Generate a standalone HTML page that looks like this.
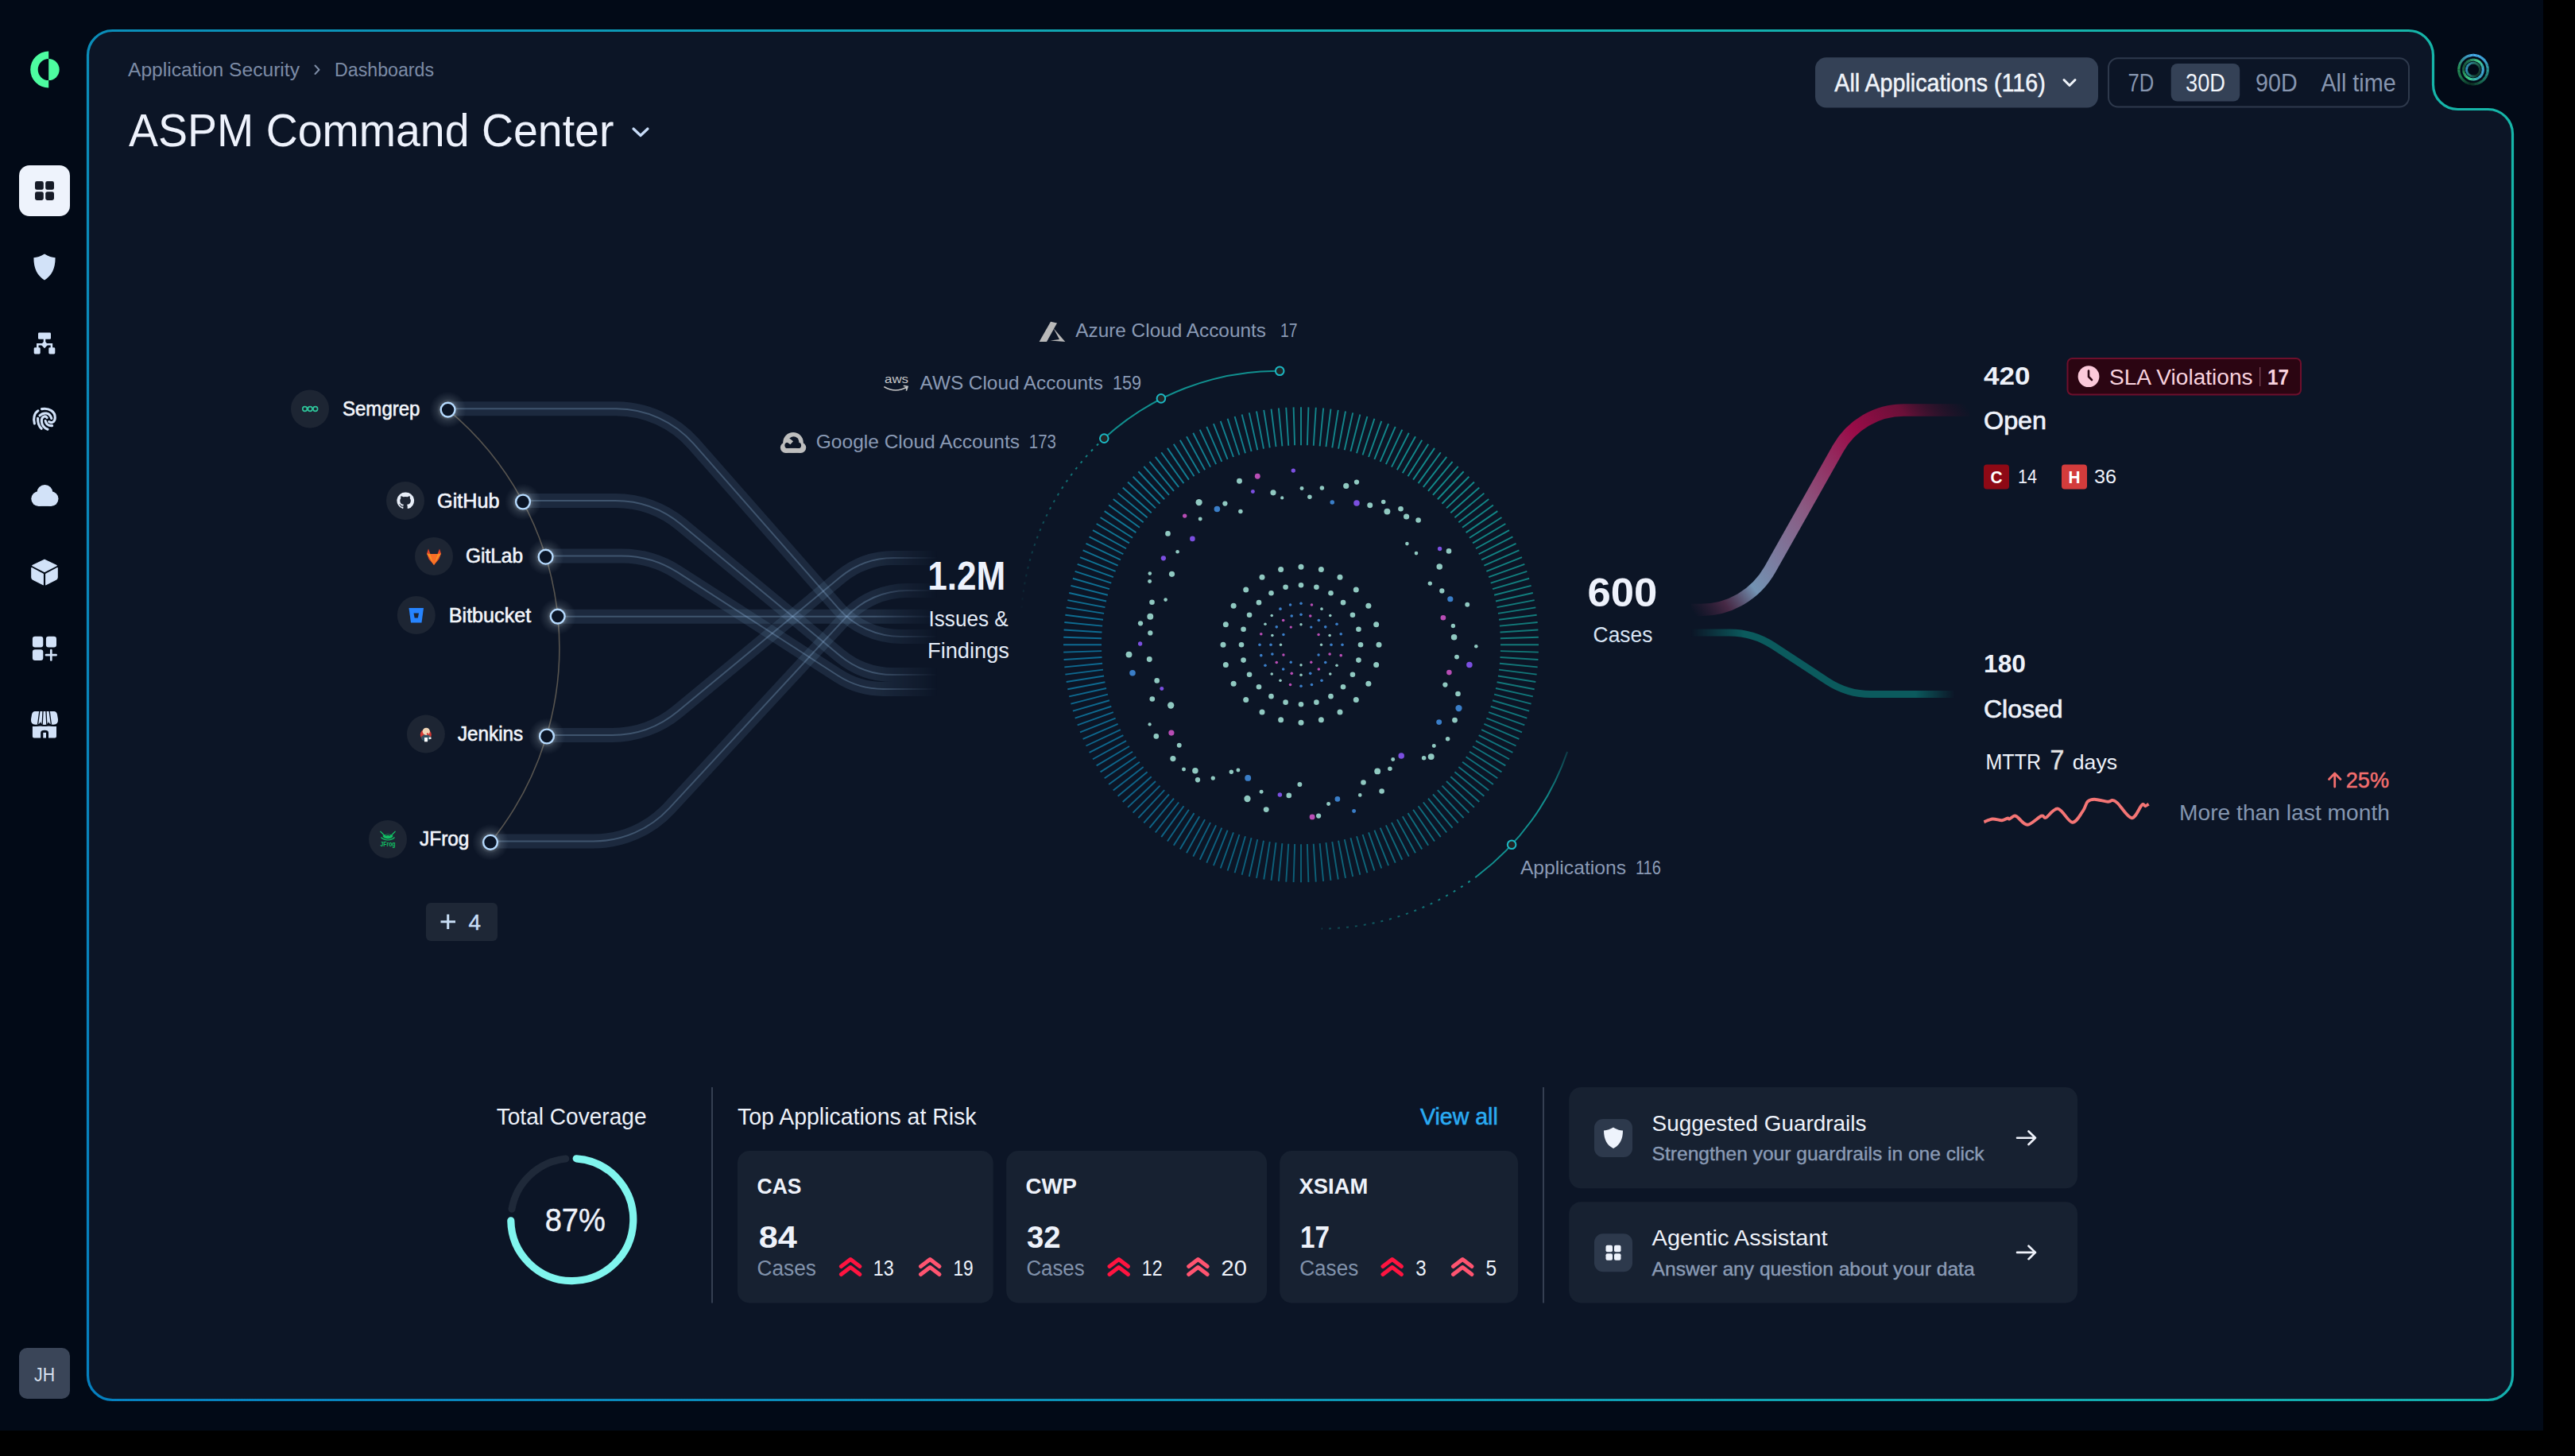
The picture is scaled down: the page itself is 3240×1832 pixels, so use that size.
<!DOCTYPE html>
<html><head><meta charset="utf-8"><title>ASPM Command Center</title>
<style>
html,body{margin:0;padding:0;background:#000;width:3240px;height:1832px;overflow:hidden}
svg{position:absolute;left:0;top:0;display:block}
text{font-family:"Liberation Sans",sans-serif;white-space:pre}
</style></head><body>
<svg width="3240" height="1832" viewBox="0 0 3240 1832">
<defs><linearGradient id="gBorder" gradientUnits="userSpaceOnUse" x1="110" y1="1762" x2="3161" y2="38"><stop offset="0" stop-color="#0580c0"/><stop offset="0.12" stop-color="#0986bc"/><stop offset="0.38" stop-color="#0c96b6"/><stop offset="0.6" stop-color="#12aab0"/><stop offset="1" stop-color="#16b6a8"/></linearGradient><linearGradient id="gFade" gradientUnits="userSpaceOnUse" x1="1100" y1="0" x2="1180" y2="0"><stop offset="0" stop-color="#fff"/><stop offset="1" stop-color="#000"/></linearGradient><mask id="mFade" maskUnits="userSpaceOnUse" x="0" y="0" width="3240" height="1832"><rect x="0" y="0" width="1100" height="1832" fill="#fff"/><rect x="1100" y="0" width="80" height="1832" fill="url(#gFade)"/></mask><radialGradient id="gGlow"><stop offset="0.3" stop-color="#e8f0f0" stop-opacity="0.42"/><stop offset="0.6" stop-color="#c0d0d8" stop-opacity="0.14"/><stop offset="1" stop-color="#a0b0c0" stop-opacity="0"/></radialGradient><linearGradient id="gDashL" gradientUnits="userSpaceOnUse" x1="1389.3" y1="551.6" x2="1285.0" y2="772.7"><stop offset="0" stop-color="#11908f" stop-opacity="1"/><stop offset="1" stop-color="#11908f" stop-opacity="0"/></linearGradient><linearGradient id="gAppTop" gradientUnits="userSpaceOnUse" x1="1972.1" y1="945.9" x2="1902.1" y2="1062.8"><stop offset="0" stop-color="#11908f" stop-opacity="0.3"/><stop offset="0.5" stop-color="#11908f" stop-opacity="1"/></linearGradient><linearGradient id="gDashR" gradientUnits="userSpaceOnUse" x1="1858.6" y1="1102.2" x2="1662.7" y2="1168.6"><stop offset="0" stop-color="#11908f" stop-opacity="1"/><stop offset="1" stop-color="#11908f" stop-opacity="0.35"/></linearGradient><linearGradient id="gOpenC" gradientUnits="userSpaceOnUse" x1="2128" y1="767" x2="2478" y2="516"><stop offset="0" stop-color="#4a2040" stop-opacity="0"/><stop offset="0.09" stop-color="#5a3050" stop-opacity="0.75"/><stop offset="0.185" stop-color="#7292b2"/><stop offset="0.44" stop-color="#8a5a82"/><stop offset="0.69" stop-color="#9a0c48"/><stop offset="0.84" stop-color="#6a1038"/><stop offset="0.97" stop-color="#301028" stop-opacity="0.3"/><stop offset="1" stop-color="#301028" stop-opacity="0"/></linearGradient><linearGradient id="gClosedX" gradientUnits="userSpaceOnUse" x1="2128" y1="0" x2="2460" y2="0"><stop offset="0" stop-color="#000"/><stop offset="0.2" stop-color="#fff"/><stop offset="0.85" stop-color="#fff"/><stop offset="1" stop-color="#000"/></linearGradient><mask id="mClosed" maskUnits="userSpaceOnUse" x="2000" y="700" width="600" height="300"><rect x="2000" y="700" width="600" height="300" fill="url(#gClosedX)"/></mask></defs>
<rect x="0" y="0" width="3240" height="1832" fill="#000"/>
<rect x="0" y="0" width="3200" height="1800" fill="#020a17"/>
<path d="M 141.5 38.5 H 3030.5 A 31 31 0 0 1 3061.5 69.5 V 106.5 A 31 31 0 0 0 3092.5 137.5 H 3130.5 A 31 31 0 0 1 3161.5 168.5 V 1730.5 A 31 31 0 0 1 3130.5 1761.5 H 141.5 A 31 31 0 0 1 110.5 1730.5 V 69.5 A 31 31 0 0 1 141.5 38.5 Z" fill="#0c1526" stroke="url(#gBorder)" stroke-width="3.2"/>
<g fill="#4dfca0"><path d="M 61.2 64.6 A 23 23 0 0 0 61.2 110.6 L 61.2 101.1 A 13.5 13.5 0 0 1 61.2 74.1 Z"/><path d="M 61.2 74.1 A 13.5 13.5 0 0 1 61.2 101.1 Z"/></g>
<rect x="24" y="208" width="64" height="64" rx="13" fill="#eef3fc"/>
<g fill="#161b27"><rect x="44" y="228" width="10.8" height="10.8" rx="2.4"/><rect x="57.2" y="228" width="10.8" height="10.8" rx="2.4"/><rect x="44" y="241.2" width="10.8" height="10.8" rx="2.4"/><rect x="57.2" y="241.2" width="10.8" height="10.8" rx="2.4"/></g>
<path fill="#d2e2f8" d="M56 319.5 C61 322.5 65.5 324 69.6 324.3 C69.6 338 65 347 56 352.4 C47 347 42.4 338 42.4 324.3 C46.5 324 51 322.5 56 319.5 Z"/>
<g fill="#d2e2f8"><rect x="48" y="418.4" width="16" height="8.4" rx="1.4"/><rect x="42.7" y="437.3" width="8" height="8.2" rx="1.4"/><rect x="61.3" y="437.3" width="8" height="8.2" rx="1.4"/><path d="M56 429 L60.5 433.6 L56 438.2 L51.5 433.6 Z"/></g><path d="M56 426 V431 M47.3 438 V433.2 H64.9 V438" stroke="#d2e2f8" stroke-width="2.5" fill="none"/>
<g stroke="#d2e2f8" stroke-width="3.1" fill="none" stroke-linecap="round"><path d="M47.9 516.8 C43 520 41.5 527 43.4 533"/><path d="M52.5 514.6 C62 513 69.5 518 69.3 525.5 C69.2 531 65 533 61.6 530.6"/><path d="M50 522.9 C54.5 518.5 62.5 518.5 64.8 526.5"/><path d="M47.6 526.2 C47.3 532 49 536.5 52.2 539.3"/><path d="M59.2 525.6 C57 522.5 52 524 52.3 530 C52.6 535 55.5 538.5 60 540.2"/><path d="M57.1 529.5 C58 534 61.5 535.8 65.6 535.6"/></g>
<g fill="#d2e2f8"><circle cx="48.6" cy="627.6" r="9.3"/><circle cx="56.4" cy="620.2" r="10.1"/><circle cx="64.2" cy="627.6" r="9.3"/><rect x="48.6" y="622" width="15.6" height="14.9"/></g>
<g fill="#d2e2f8" stroke="#d2e2f8" stroke-width="1.2" stroke-linejoin="round"><path d="M56 704.2 L71.2 711.6 L56 719.4 L40.8 711.6 Z"/><path d="M39.8 714.6 L54.3 722.2 V735.8 L41.5 729.3 Q39.8 728.4 39.8 726.5 Z"/><path d="M72.2 714.6 L57.7 722.2 V735.8 L70.5 729.3 Q72.2 728.4 72.2 726.5 Z"/></g>
<g fill="#d2e2f8"><rect x="40.9" y="800.8" width="13.4" height="13.7" rx="3.2"/><rect x="57.9" y="800.8" width="13.1" height="13.7" rx="3.2"/><rect x="40.9" y="817.3" width="13.4" height="13.7" rx="3.2"/></g><path d="M64.3 818 V830.5 M58 824.2 H70.6" stroke="#d2e2f8" stroke-width="2.7" stroke-linecap="round"/>
<g fill="#d2e2f8"><path d="M44 895 H68 Q71 895 72 899 L73 905 Q73.5 911.5 67.5 911.8 Q62 912 61 908 Q60 912 56 912 Q52 912 51 908 Q50 912 44.5 911.8 Q38.5 911.5 39 905 L40 899 Q41 895 44 895 Z"/><path d="M40.9 913.6 H71 V926.5 Q71 928.5 69 928.5 H61 V922 Q61 918.7 56.1 918.7 Q51.2 918.7 51.2 922 V928.5 H42.9 Q40.9 928.5 40.9 926.5 Z"/><rect x="54.3" y="921.8" width="3.7" height="6.7"/></g><path d="M49.8 895 L47.6 911.5 M54 895 L53.2 911.5 M58 895 L58.8 911.5 M62.2 895 L64.4 911.5" stroke="#020a17" stroke-width="1.3"/><path d="M39 912.7 Q44 914 51 912.3 Q56 914 61 912.3 Q68 914 73 912.7" stroke="#020a17" stroke-width="1.4" fill="none"/>
<rect x="24" y="1696" width="64" height="64" rx="10" fill="#3a4558"/>
<text x="43.00" y="1737.50" font-size="24.71" font-weight="normal" fill="#d8e0ee" textLength="26.05" lengthAdjust="spacingAndGlyphs" >JH</text>
<text x="161.00" y="96.10" font-size="24.42" font-weight="normal" fill="#7d8ca6" textLength="215.94" lengthAdjust="spacingAndGlyphs" >Application Security</text>
<path d="M396.5 82.5 L401.5 87.7 L396.5 93" stroke="#7d8ca6" stroke-width="2" fill="none" stroke-linecap="round" stroke-linejoin="round"/>
<text x="421.00" y="96.10" font-size="24.42" font-weight="normal" fill="#7d8ca6" textLength="125.05" lengthAdjust="spacingAndGlyphs" >Dashboards</text>
<text x="162.00" y="184.20" font-size="57.27" font-weight="normal" fill="#eef2fc" textLength="610.46" lengthAdjust="spacingAndGlyphs" >ASPM Command Center</text>
<path d="M797 162 L806 170.5 L815 162" stroke="#c8dcf8" stroke-width="3.2" fill="none" stroke-linecap="round" stroke-linejoin="round"/>
<rect x="2284" y="72.3" width="356" height="63.2" rx="14" fill="#344156"/>
<text x="2308.30" y="114.60" font-size="30.52" font-weight="normal" fill="#f0f4fa" textLength="265.39" lengthAdjust="spacingAndGlyphs" stroke="#f0f4fa" stroke-width="0.5" paint-order="stroke" >All Applications (116)</text>
<path d="M2597 100.5 L2604 107.5 L2611 100.5" stroke="#f0f4fa" stroke-width="3" fill="none" stroke-linecap="round" stroke-linejoin="round"/>
<rect x="2653" y="73.3" width="378" height="61.2" rx="12" fill="none" stroke="#2e394c" stroke-width="2"/>
<rect x="2731.7" y="80" width="86.5" height="47.5" rx="8" fill="#344156"/>
<text x="2677.40" y="114.60" font-size="30.52" font-weight="normal" fill="#8796b0" textLength="32.76" lengthAdjust="spacingAndGlyphs" >7D</text>
<text x="2750.00" y="114.60" font-size="30.52" font-weight="normal" fill="#f0f4fa" textLength="49.99" lengthAdjust="spacingAndGlyphs" >30D</text>
<text x="2838.00" y="114.60" font-size="30.52" font-weight="normal" fill="#8796b0" textLength="52.59" lengthAdjust="spacingAndGlyphs" >90D</text>
<text x="2920.40" y="114.60" font-size="30.52" font-weight="normal" fill="#8796b0" textLength="94.36" lengthAdjust="spacingAndGlyphs" >All time</text>
<g fill="none" stroke-width="3.2"><path d="M3130.20 87.60 A18.2 18.2 0 0 1 3130.14 89.06" stroke="#2b9a96"/><path d="M3130.16 88.87 A18.2 18.2 0 0 1 3130.00 90.32" stroke="#2a9791"/><path d="M3130.02 90.13 A18.2 18.2 0 0 1 3129.76 91.57" stroke="#29948c"/><path d="M3129.80 91.38 A18.2 18.2 0 0 1 3129.44 92.80" stroke="#289087"/><path d="M3129.49 92.62 A18.2 18.2 0 0 1 3129.04 94.00" stroke="#278d82"/><path d="M3129.10 93.82 A18.2 18.2 0 0 1 3128.55 95.18" stroke="#258a7e"/><path d="M3128.63 95.00 A18.2 18.2 0 0 1 3127.98 96.31" stroke="#248679"/><path d="M3128.07 96.14 A18.2 18.2 0 0 1 3127.33 97.41" stroke="#238374"/><path d="M3127.43 97.24 A18.2 18.2 0 0 1 3126.61 98.45" stroke="#22806f"/><path d="M3126.72 98.30 A18.2 18.2 0 0 1 3125.82 99.44" stroke="#217c6a"/><path d="M3125.94 99.30 A18.2 18.2 0 0 1 3124.96 100.38" stroke="#1f7966"/><path d="M3125.09 100.24 A18.2 18.2 0 0 1 3124.04 101.25" stroke="#1e7661"/><path d="M3124.18 101.13 A18.2 18.2 0 0 1 3123.05 102.06" stroke="#1d725c"/><path d="M3123.21 101.94 A18.2 18.2 0 0 1 3122.02 102.79" stroke="#1c6f57"/><path d="M3122.18 102.69 A18.2 18.2 0 0 1 3120.93 103.46" stroke="#1b6c52"/><path d="M3121.10 103.36 A18.2 18.2 0 0 1 3119.81 104.04" stroke="#19674e"/><path d="M3119.98 103.96 A18.2 18.2 0 0 1 3118.64 104.55" stroke="#186149"/><path d="M3118.82 104.47 A18.2 18.2 0 0 1 3117.44 104.97" stroke="#165b44"/><path d="M3117.62 104.91 A18.2 18.2 0 0 1 3116.22 105.30" stroke="#155540"/><path d="M3116.40 105.26 A18.2 18.2 0 0 1 3114.97 105.56" stroke="#144f3b"/><path d="M3115.16 105.52 A18.2 18.2 0 0 1 3113.71 105.72" stroke="#124937"/><path d="M3113.90 105.70 A18.2 18.2 0 0 1 3112.44 105.79" stroke="#114332"/><path d="M3112.64 105.79 A18.2 18.2 0 0 1 3111.17 105.78" stroke="#103d2e"/><path d="M3111.36 105.79 A18.2 18.2 0 0 1 3109.91 105.68" stroke="#0e3729"/><path d="M3110.10 105.70 A18.2 18.2 0 0 1 3108.65 105.49" stroke="#0d3124"/><path d="M3108.84 105.52 A18.2 18.2 0 0 1 3107.41 105.21" stroke="#0d3124"/><path d="M3107.60 105.26 A18.2 18.2 0 0 1 3106.19 104.85" stroke="#0e3728"/><path d="M3106.38 104.91 A18.2 18.2 0 0 1 3105.01 104.40" stroke="#103d2b"/><path d="M3105.18 104.47 A18.2 18.2 0 0 1 3103.85 103.87" stroke="#11432f"/><path d="M3104.02 103.96 A18.2 18.2 0 0 1 3102.74 103.27" stroke="#124933"/><path d="M3102.90 103.36 A18.2 18.2 0 0 1 3101.67 102.58" stroke="#144f36"/><path d="M3101.82 102.69 A18.2 18.2 0 0 1 3100.65 101.82" stroke="#15563a"/><path d="M3100.79 101.94 A18.2 18.2 0 0 1 3099.68 101.00" stroke="#175c3e"/><path d="M3099.82 101.13 A18.2 18.2 0 0 1 3098.78 100.10" stroke="#186241"/><path d="M3098.91 100.24 A18.2 18.2 0 0 1 3097.94 99.15" stroke="#1a6845"/><path d="M3098.06 99.30 A18.2 18.2 0 0 1 3097.16 98.14" stroke="#1b6e49"/><path d="M3097.28 98.30 A18.2 18.2 0 0 1 3096.47 97.08" stroke="#1d744c"/><path d="M3096.57 97.24 A18.2 18.2 0 0 1 3095.84 95.98" stroke="#1e7a50"/><path d="M3095.93 96.14 A18.2 18.2 0 0 1 3095.30 94.83" stroke="#1f7d51"/><path d="M3095.37 95.00 A18.2 18.2 0 0 1 3094.83 93.65" stroke="#208052"/><path d="M3094.90 93.82 A18.2 18.2 0 0 1 3094.45 92.43" stroke="#228454"/><path d="M3094.51 92.62 A18.2 18.2 0 0 1 3094.16 91.20" stroke="#238755"/><path d="M3094.20 91.38 A18.2 18.2 0 0 1 3093.95 89.94" stroke="#248a56"/><path d="M3093.98 90.13 A18.2 18.2 0 0 1 3093.83 88.68" stroke="#258d57"/><path d="M3093.84 88.87 A18.2 18.2 0 0 1 3093.80 87.41" stroke="#269058"/><path d="M3093.80 87.60 A18.2 18.2 0 0 1 3093.86 86.14" stroke="#28945a"/><path d="M3093.84 86.33 A18.2 18.2 0 0 1 3094.00 84.88" stroke="#29975b"/><path d="M3093.98 85.07 A18.2 18.2 0 0 1 3094.24 83.63" stroke="#2a9a5c"/><path d="M3094.20 83.82 A18.2 18.2 0 0 1 3094.56 82.40" stroke="#2c9a64"/><path d="M3094.51 82.58 A18.2 18.2 0 0 1 3094.96 81.20" stroke="#2d9a6d"/><path d="M3094.90 81.38 A18.2 18.2 0 0 1 3095.45 80.02" stroke="#2f9a75"/><path d="M3095.37 80.20 A18.2 18.2 0 0 1 3096.02 78.89" stroke="#309a7e"/><path d="M3095.93 79.06 A18.2 18.2 0 0 1 3096.67 77.79" stroke="#329a86"/><path d="M3096.57 77.96 A18.2 18.2 0 0 1 3097.39 76.75" stroke="#349a8e"/><path d="M3097.28 76.90 A18.2 18.2 0 0 1 3098.18 75.76" stroke="#359a97"/><path d="M3098.06 75.90 A18.2 18.2 0 0 1 3099.04 74.82" stroke="#379a9f"/><path d="M3098.91 74.96 A18.2 18.2 0 0 1 3099.96 73.95" stroke="#389aa8"/><path d="M3099.82 74.07 A18.2 18.2 0 0 1 3100.95 73.14" stroke="#3a9ab0"/><path d="M3100.79 73.26 A18.2 18.2 0 0 1 3101.98 72.41" stroke="#3c9cb7"/><path d="M3101.82 72.51 A18.2 18.2 0 0 1 3103.07 71.74" stroke="#3d9fbd"/><path d="M3102.90 71.84 A18.2 18.2 0 0 1 3104.19 71.16" stroke="#3fa1c4"/><path d="M3104.02 71.24 A18.2 18.2 0 0 1 3105.36 70.65" stroke="#40a4ca"/><path d="M3105.18 70.73 A18.2 18.2 0 0 1 3106.56 70.23" stroke="#42a6d1"/><path d="M3106.38 70.29 A18.2 18.2 0 0 1 3107.78 69.90" stroke="#44a8d8"/><path d="M3107.60 69.94 A18.2 18.2 0 0 1 3109.03 69.64" stroke="#45abde"/><path d="M3108.84 69.68 A18.2 18.2 0 0 1 3110.29 69.48" stroke="#47ade5"/><path d="M3110.10 69.50 A18.2 18.2 0 0 1 3111.56 69.41" stroke="#48b0eb"/><path d="M3111.36 69.41 A18.2 18.2 0 0 1 3112.83 69.42" stroke="#4ab2f2"/><path d="M3112.64 69.41 A18.2 18.2 0 0 1 3114.09 69.52" stroke="#49b1f0"/><path d="M3113.90 69.50 A18.2 18.2 0 0 1 3115.35 69.71" stroke="#48b1ee"/><path d="M3115.16 69.68 A18.2 18.2 0 0 1 3116.59 69.99" stroke="#48b0ed"/><path d="M3116.40 69.94 A18.2 18.2 0 0 1 3117.81 70.35" stroke="#47afeb"/><path d="M3117.62 70.29 A18.2 18.2 0 0 1 3118.99 70.80" stroke="#46afe9"/><path d="M3118.82 70.73 A18.2 18.2 0 0 1 3120.15 71.33" stroke="#45aee7"/><path d="M3119.98 71.24 A18.2 18.2 0 0 1 3121.26 71.93" stroke="#44aee6"/><path d="M3121.10 71.84 A18.2 18.2 0 0 1 3122.33 72.62" stroke="#44ade4"/><path d="M3122.18 72.51 A18.2 18.2 0 0 1 3123.35 73.38" stroke="#43ace2"/><path d="M3123.21 73.26 A18.2 18.2 0 0 1 3124.32 74.20" stroke="#42ace0"/><path d="M3124.18 74.07 A18.2 18.2 0 0 1 3125.22 75.10" stroke="#41abdf"/><path d="M3125.09 74.96 A18.2 18.2 0 0 1 3126.06 76.05" stroke="#40aadd"/><path d="M3125.94 75.90 A18.2 18.2 0 0 1 3126.84 77.06" stroke="#3fa9d9"/><path d="M3126.72 76.90 A18.2 18.2 0 0 1 3127.53 78.12" stroke="#3da8d2"/><path d="M3127.43 77.96 A18.2 18.2 0 0 1 3128.16 79.22" stroke="#3ba6cb"/><path d="M3128.07 79.06 A18.2 18.2 0 0 1 3128.70 80.37" stroke="#39a5c4"/><path d="M3128.63 80.20 A18.2 18.2 0 0 1 3129.17 81.55" stroke="#37a4bd"/><path d="M3129.10 81.38 A18.2 18.2 0 0 1 3129.55 82.77" stroke="#35a2b7"/><path d="M3129.49 82.58 A18.2 18.2 0 0 1 3129.84 84.00" stroke="#33a1b0"/><path d="M3129.80 83.82 A18.2 18.2 0 0 1 3130.05 85.26" stroke="#31a0a9"/><path d="M3130.02 85.07 A18.2 18.2 0 0 1 3130.17 86.52" stroke="#2f9ea2"/><path d="M3130.16 86.33 A18.2 18.2 0 0 1 3130.20 87.79" stroke="#2d9d9b"/></g>
<g fill="none" stroke-width="3.1"><path d="M3124.30 87.60 A12.3 12.3 0 0 1 3124.26 88.59" stroke="#4ab8ef"/><path d="M3124.27 88.46 A12.3 12.3 0 0 1 3124.16 89.44" stroke="#49b8ed"/><path d="M3124.18 89.31 A12.3 12.3 0 0 1 3124.00 90.28" stroke="#48b8eb"/><path d="M3124.03 90.16 A12.3 12.3 0 0 1 3123.79 91.11" stroke="#48b8e9"/><path d="M3123.82 90.99 A12.3 12.3 0 0 1 3123.51 91.93" stroke="#47b8e6"/><path d="M3123.56 91.81 A12.3 12.3 0 0 1 3123.18 92.72" stroke="#46b8e4"/><path d="M3123.24 92.60 A12.3 12.3 0 0 1 3122.80 93.49" stroke="#46b8e2"/><path d="M3122.86 93.37 A12.3 12.3 0 0 1 3122.36 94.23" stroke="#45b8e0"/><path d="M3122.43 94.12 A12.3 12.3 0 0 1 3121.87 94.93" stroke="#44b8de"/><path d="M3121.95 94.83 A12.3 12.3 0 0 1 3121.34 95.60" stroke="#44b8dc"/><path d="M3121.42 95.51 A12.3 12.3 0 0 1 3120.76 96.24" stroke="#43b8da"/><path d="M3120.85 96.14 A12.3 12.3 0 0 1 3120.13 96.83" stroke="#42b8d7"/><path d="M3120.23 96.74 A12.3 12.3 0 0 1 3119.47 97.37" stroke="#42b8d5"/><path d="M3119.57 97.29 A12.3 12.3 0 0 1 3118.77 97.87" stroke="#41b8d3"/><path d="M3118.88 97.80 A12.3 12.3 0 0 1 3118.04 98.32" stroke="#40b8d1"/><path d="M3118.15 98.25 A12.3 12.3 0 0 1 3117.28 98.71" stroke="#40bace"/><path d="M3117.39 98.66 A12.3 12.3 0 0 1 3116.49 99.05" stroke="#41bdca"/><path d="M3116.61 99.00 A12.3 12.3 0 0 1 3115.68 99.34" stroke="#41c0c7"/><path d="M3115.80 99.30 A12.3 12.3 0 0 1 3114.85 99.57" stroke="#42c3c3"/><path d="M3114.98 99.53 A12.3 12.3 0 0 1 3114.01 99.73" stroke="#42c6bf"/><path d="M3114.14 99.71 A12.3 12.3 0 0 1 3113.16 99.85" stroke="#43cabb"/><path d="M3113.29 99.83 A12.3 12.3 0 0 1 3112.30 99.90" stroke="#43cdb8"/><path d="M3112.43 99.89 A12.3 12.3 0 0 1 3111.44 99.89" stroke="#44d0b4"/><path d="M3111.57 99.89 A12.3 12.3 0 0 1 3110.59 99.82" stroke="#45d3b0"/><path d="M3110.71 99.83 A12.3 12.3 0 0 1 3109.74 99.69" stroke="#45d6ad"/><path d="M3109.86 99.71 A12.3 12.3 0 0 1 3108.90 99.50" stroke="#46daa9"/><path d="M3109.02 99.53 A12.3 12.3 0 0 1 3108.08 99.26" stroke="#46dda5"/><path d="M3108.20 99.30 A12.3 12.3 0 0 1 3107.27 98.96" stroke="#47e0a1"/><path d="M3107.39 99.00 A12.3 12.3 0 0 1 3106.49 98.60" stroke="#47e39e"/><path d="M3106.61 98.66 A12.3 12.3 0 0 1 3105.74 98.19" stroke="#48e69a"/><path d="M3105.85 98.25 A12.3 12.3 0 0 1 3105.02 97.72" stroke="#46e495"/><path d="M3105.12 97.80 A12.3 12.3 0 0 1 3104.33 97.21" stroke="#44dc90"/><path d="M3104.43 97.29 A12.3 12.3 0 0 1 3103.67 96.65" stroke="#40d48a"/><path d="M3103.77 96.74 A12.3 12.3 0 0 1 3103.06 96.05" stroke="#3ecd84"/><path d="M3103.15 96.14 A12.3 12.3 0 0 1 3102.50 95.41" stroke="#3ac57f"/><path d="M3102.58 95.51 A12.3 12.3 0 0 1 3101.97 94.73" stroke="#38bd79"/><path d="M3102.05 94.83 A12.3 12.3 0 0 1 3101.50 94.01" stroke="#34b574"/><path d="M3101.57 94.12 A12.3 12.3 0 0 1 3101.08 93.26" stroke="#32ae6e"/><path d="M3101.14 93.37 A12.3 12.3 0 0 1 3100.71 92.48" stroke="#2ea668"/><path d="M3100.76 92.60 A12.3 12.3 0 0 1 3100.40 91.69" stroke="#2c9e63"/><path d="M3100.44 91.81 A12.3 12.3 0 0 1 3100.14 90.87" stroke="#29975e"/><path d="M3100.18 90.99 A12.3 12.3 0 0 1 3099.94 90.03" stroke="#28905b"/><path d="M3099.97 90.16 A12.3 12.3 0 0 1 3099.80 89.18" stroke="#268a57"/><path d="M3099.82 89.31 A12.3 12.3 0 0 1 3099.72 88.33" stroke="#248453"/><path d="M3099.73 88.46 A12.3 12.3 0 0 1 3099.70 87.47" stroke="#237d50"/><path d="M3099.70 87.60 A12.3 12.3 0 0 1 3099.74 86.61" stroke="#21774c"/><path d="M3099.73 86.74 A12.3 12.3 0 0 1 3099.84 85.76" stroke="#207049"/><path d="M3099.82 85.89 A12.3 12.3 0 0 1 3100.00 84.92" stroke="#1e6a45"/><path d="M3099.97 85.04 A12.3 12.3 0 0 1 3100.21 84.09" stroke="#1c6441"/><path d="M3100.18 84.21 A12.3 12.3 0 0 1 3100.49 83.27" stroke="#1b5d3e"/><path d="M3100.44 83.39 A12.3 12.3 0 0 1 3100.82 82.48" stroke="#1b5c3d"/><path d="M3100.76 82.60 A12.3 12.3 0 0 1 3101.20 81.71" stroke="#1c6040"/><path d="M3101.14 81.83 A12.3 12.3 0 0 1 3101.64 80.97" stroke="#1d6443"/><path d="M3101.57 81.08 A12.3 12.3 0 0 1 3102.13 80.27" stroke="#1e6746"/><path d="M3102.05 80.37 A12.3 12.3 0 0 1 3102.66 79.60" stroke="#206b49"/><path d="M3102.58 79.69 A12.3 12.3 0 0 1 3103.24 78.96" stroke="#216f4c"/><path d="M3103.15 79.06 A12.3 12.3 0 0 1 3103.87 78.37" stroke="#22734f"/><path d="M3103.77 78.46 A12.3 12.3 0 0 1 3104.53 77.83" stroke="#247752"/><path d="M3104.43 77.91 A12.3 12.3 0 0 1 3105.23 77.33" stroke="#257b54"/><path d="M3105.12 77.40 A12.3 12.3 0 0 1 3105.96 76.88" stroke="#267e57"/><path d="M3105.85 76.95 A12.3 12.3 0 0 1 3106.72 76.49" stroke="#27825a"/><path d="M3106.61 76.54 A12.3 12.3 0 0 1 3107.51 76.15" stroke="#29865d"/><path d="M3107.39 76.20 A12.3 12.3 0 0 1 3108.32 75.86" stroke="#2a8a60"/><path d="M3108.20 75.90 A12.3 12.3 0 0 1 3109.15 75.63" stroke="#2d9265"/><path d="M3109.02 75.67 A12.3 12.3 0 0 1 3109.99 75.47" stroke="#30996a"/><path d="M3109.86 75.49 A12.3 12.3 0 0 1 3110.84 75.35" stroke="#33a16f"/><path d="M3110.71 75.37 A12.3 12.3 0 0 1 3111.70 75.30" stroke="#36a874"/><path d="M3111.57 75.31 A12.3 12.3 0 0 1 3112.56 75.31" stroke="#39b07a"/><path d="M3112.43 75.31 A12.3 12.3 0 0 1 3113.41 75.38" stroke="#3cb77f"/><path d="M3113.29 75.37 A12.3 12.3 0 0 1 3114.26 75.51" stroke="#3fbf84"/><path d="M3114.14 75.49 A12.3 12.3 0 0 1 3115.10 75.70" stroke="#42c689"/><path d="M3114.98 75.67 A12.3 12.3 0 0 1 3115.92 75.94" stroke="#45ce8e"/><path d="M3115.80 75.90 A12.3 12.3 0 0 1 3116.73 76.24" stroke="#48d593"/><path d="M3116.61 76.20 A12.3 12.3 0 0 1 3117.51 76.60" stroke="#4bdd98"/><path d="M3117.39 76.54 A12.3 12.3 0 0 1 3118.26 77.01" stroke="#4ee49d"/><path d="M3118.15 76.95 A12.3 12.3 0 0 1 3118.98 77.48" stroke="#4fe6a2"/><path d="M3118.88 77.40 A12.3 12.3 0 0 1 3119.67 77.99" stroke="#4ee3a5"/><path d="M3119.57 77.91 A12.3 12.3 0 0 1 3120.33 78.55" stroke="#4ce0a8"/><path d="M3120.23 78.46 A12.3 12.3 0 0 1 3120.94 79.15" stroke="#4addab"/><path d="M3120.85 79.06 A12.3 12.3 0 0 1 3121.50 79.79" stroke="#49daae"/><path d="M3121.42 79.69 A12.3 12.3 0 0 1 3122.03 80.47" stroke="#47d6b2"/><path d="M3121.95 80.37 A12.3 12.3 0 0 1 3122.50 81.19" stroke="#46d3b5"/><path d="M3122.43 81.08 A12.3 12.3 0 0 1 3122.92 81.94" stroke="#44d0b8"/><path d="M3122.86 81.83 A12.3 12.3 0 0 1 3123.29 82.72" stroke="#42cdbb"/><path d="M3123.24 82.60 A12.3 12.3 0 0 1 3123.60 83.51" stroke="#41cabe"/><path d="M3123.56 83.39 A12.3 12.3 0 0 1 3123.86 84.33" stroke="#41c6c5"/><path d="M3123.82 84.21 A12.3 12.3 0 0 1 3124.06 85.17" stroke="#43c3ce"/><path d="M3124.03 85.04 A12.3 12.3 0 0 1 3124.20 86.02" stroke="#45c0d8"/><path d="M3124.18 85.89 A12.3 12.3 0 0 1 3124.28 86.87" stroke="#47bde2"/><path d="M3124.27 86.74 A12.3 12.3 0 0 1 3124.30 87.73" stroke="#49baeb"/></g>
<g fill="none" stroke-width="2.8"><path d="M3120.40 87.60 A8.4 8.4 0 0 1 3120.37 88.27" stroke="#1a4a3a"/><path d="M3120.38 88.19 A8.4 8.4 0 0 1 3120.31 88.86" stroke="#1a4939"/><path d="M3120.32 88.77 A8.4 8.4 0 0 1 3120.20 89.43" stroke="#1a4838"/><path d="M3120.22 89.35 A8.4 8.4 0 0 1 3120.05 90.00" stroke="#1a4837"/><path d="M3120.07 89.92 A8.4 8.4 0 0 1 3119.86 90.56" stroke="#194736"/><path d="M3119.89 90.47 A8.4 8.4 0 0 1 3119.64 91.10" stroke="#194636"/><path d="M3119.67 91.02 A8.4 8.4 0 0 1 3119.38 91.62" stroke="#194635"/><path d="M3119.42 91.54 A8.4 8.4 0 0 1 3119.08 92.13" stroke="#194534"/><path d="M3119.12 92.05 A8.4 8.4 0 0 1 3118.74 92.61" stroke="#194433"/><path d="M3118.80 92.54 A8.4 8.4 0 0 1 3118.38 93.07" stroke="#194432"/><path d="M3118.43 93.00 A8.4 8.4 0 0 1 3117.98 93.50" stroke="#194332"/><path d="M3118.04 93.44 A8.4 8.4 0 0 1 3117.56 93.90" stroke="#184231"/><path d="M3117.62 93.84 A8.4 8.4 0 0 1 3117.10 94.27" stroke="#184230"/><path d="M3117.17 94.22 A8.4 8.4 0 0 1 3116.62 94.61" stroke="#18412f"/><path d="M3116.70 94.56 A8.4 8.4 0 0 1 3116.12 94.92" stroke="#18402e"/><path d="M3116.20 94.87 A8.4 8.4 0 0 1 3115.60 95.19" stroke="#194231"/><path d="M3115.68 95.15 A8.4 8.4 0 0 1 3115.06 95.42" stroke="#1a4736"/><path d="M3115.15 95.39 A8.4 8.4 0 0 1 3114.51 95.62" stroke="#1b4c3c"/><path d="M3114.60 95.59 A8.4 8.4 0 0 1 3113.95 95.77" stroke="#1c5141"/><path d="M3114.03 95.75 A8.4 8.4 0 0 1 3113.37 95.89" stroke="#1d5647"/><path d="M3113.46 95.87 A8.4 8.4 0 0 1 3112.79 95.96" stroke="#1f5b4c"/><path d="M3112.88 95.95 A8.4 8.4 0 0 1 3112.21 96.00" stroke="#206052"/><path d="M3112.29 95.99 A8.4 8.4 0 0 1 3111.62 95.99" stroke="#216557"/><path d="M3111.71 95.99 A8.4 8.4 0 0 1 3111.03 95.94" stroke="#226a5c"/><path d="M3111.12 95.95 A8.4 8.4 0 0 1 3110.45 95.86" stroke="#236f62"/><path d="M3110.54 95.87 A8.4 8.4 0 0 1 3109.88 95.73" stroke="#257467"/><path d="M3109.97 95.75 A8.4 8.4 0 0 1 3109.32 95.56" stroke="#26796d"/><path d="M3109.40 95.59 A8.4 8.4 0 0 1 3108.77 95.35" stroke="#277e72"/><path d="M3108.85 95.39 A8.4 8.4 0 0 1 3108.24 95.11" stroke="#288378"/><path d="M3108.32 95.15 A8.4 8.4 0 0 1 3107.72 94.83" stroke="#29887d"/><path d="M3107.80 94.87 A8.4 8.4 0 0 1 3107.23 94.51" stroke="#2b8b83"/><path d="M3107.30 94.56 A8.4 8.4 0 0 1 3106.76 94.16" stroke="#2c8e8a"/><path d="M3106.83 94.22 A8.4 8.4 0 0 1 3106.31 93.78" stroke="#2d9090"/><path d="M3106.38 93.84 A8.4 8.4 0 0 1 3105.90 93.37" stroke="#2e9396"/><path d="M3105.96 93.44 A8.4 8.4 0 0 1 3105.51 92.93" stroke="#2f959d"/><path d="M3105.57 93.00 A8.4 8.4 0 0 1 3105.15 92.47" stroke="#3098a3"/><path d="M3105.20 92.54 A8.4 8.4 0 0 1 3104.83 91.98" stroke="#319aaa"/><path d="M3104.88 92.05 A8.4 8.4 0 0 1 3104.54 91.47" stroke="#329db0"/><path d="M3104.58 91.54 A8.4 8.4 0 0 1 3104.29 90.94" stroke="#33a0b6"/><path d="M3104.33 91.02 A8.4 8.4 0 0 1 3104.08 90.39" stroke="#34a2bd"/><path d="M3104.11 90.47 A8.4 8.4 0 0 1 3103.90 89.83" stroke="#35a5c3"/><path d="M3103.93 89.92 A8.4 8.4 0 0 1 3103.77 89.26" stroke="#36a7ca"/><path d="M3103.78 89.35 A8.4 8.4 0 0 1 3103.67 88.68" stroke="#37aad0"/><path d="M3103.68 88.77 A8.4 8.4 0 0 1 3103.61 88.10" stroke="#38acd6"/><path d="M3103.62 88.19 A8.4 8.4 0 0 1 3103.60 87.51" stroke="#39afdd"/><path d="M3103.60 87.60 A8.4 8.4 0 0 1 3103.63 86.93" stroke="#3aafdf"/><path d="M3103.62 87.01 A8.4 8.4 0 0 1 3103.69 86.34" stroke="#3aaedc"/><path d="M3103.68 86.43 A8.4 8.4 0 0 1 3103.80 85.77" stroke="#3aadd9"/><path d="M3103.78 85.85 A8.4 8.4 0 0 1 3103.95 85.20" stroke="#3aacd7"/><path d="M3103.93 85.28 A8.4 8.4 0 0 1 3104.14 84.64" stroke="#3aabd4"/><path d="M3104.11 84.73 A8.4 8.4 0 0 1 3104.36 84.10" stroke="#3aaad1"/><path d="M3104.33 84.18 A8.4 8.4 0 0 1 3104.62 83.58" stroke="#3aa9cf"/><path d="M3104.58 83.66 A8.4 8.4 0 0 1 3104.92 83.07" stroke="#3aa8cc"/><path d="M3104.88 83.15 A8.4 8.4 0 0 1 3105.26 82.59" stroke="#3aa7c9"/><path d="M3105.20 82.66 A8.4 8.4 0 0 1 3105.62 82.13" stroke="#3aa6c7"/><path d="M3105.57 82.20 A8.4 8.4 0 0 1 3106.02 81.70" stroke="#3aa5c4"/><path d="M3105.96 81.76 A8.4 8.4 0 0 1 3106.44 81.30" stroke="#3aa4c1"/><path d="M3106.38 81.36 A8.4 8.4 0 0 1 3106.90 80.93" stroke="#3aa3bf"/><path d="M3106.83 80.98 A8.4 8.4 0 0 1 3107.38 80.59" stroke="#3aa2bc"/><path d="M3107.30 80.64 A8.4 8.4 0 0 1 3107.88 80.28" stroke="#3aa1b9"/><path d="M3107.80 80.33 A8.4 8.4 0 0 1 3108.40 80.01" stroke="#399fb5"/><path d="M3108.32 80.05 A8.4 8.4 0 0 1 3108.94 79.78" stroke="#389caf"/><path d="M3108.85 79.81 A8.4 8.4 0 0 1 3109.49 79.58" stroke="#379aa9"/><path d="M3109.40 79.61 A8.4 8.4 0 0 1 3110.05 79.43" stroke="#3697a3"/><path d="M3109.97 79.45 A8.4 8.4 0 0 1 3110.63 79.31" stroke="#35959e"/><path d="M3110.54 79.33 A8.4 8.4 0 0 1 3111.21 79.24" stroke="#349298"/><path d="M3111.12 79.25 A8.4 8.4 0 0 1 3111.79 79.20" stroke="#339092"/><path d="M3111.71 79.21 A8.4 8.4 0 0 1 3112.38 79.21" stroke="#328d8c"/><path d="M3112.29 79.21 A8.4 8.4 0 0 1 3112.97 79.26" stroke="#318a86"/><path d="M3112.88 79.25 A8.4 8.4 0 0 1 3113.55 79.34" stroke="#308880"/><path d="M3113.46 79.33 A8.4 8.4 0 0 1 3114.12 79.47" stroke="#2f857a"/><path d="M3114.03 79.45 A8.4 8.4 0 0 1 3114.68 79.64" stroke="#2e8375"/><path d="M3114.60 79.61 A8.4 8.4 0 0 1 3115.23 79.85" stroke="#2d806f"/><path d="M3115.15 79.81 A8.4 8.4 0 0 1 3115.76 80.09" stroke="#2c7e69"/><path d="M3115.68 80.05 A8.4 8.4 0 0 1 3116.28 80.37" stroke="#2b7b63"/><path d="M3116.20 80.33 A8.4 8.4 0 0 1 3116.77 80.69" stroke="#29785f"/><path d="M3116.70 80.64 A8.4 8.4 0 0 1 3117.24 81.04" stroke="#28755c"/><path d="M3117.17 80.98 A8.4 8.4 0 0 1 3117.69 81.42" stroke="#27725a"/><path d="M3117.62 81.36 A8.4 8.4 0 0 1 3118.10 81.83" stroke="#266f57"/><path d="M3118.04 81.76 A8.4 8.4 0 0 1 3118.49 82.27" stroke="#256c55"/><path d="M3118.43 82.20 A8.4 8.4 0 0 1 3118.85 82.73" stroke="#246852"/><path d="M3118.80 82.66 A8.4 8.4 0 0 1 3119.17 83.22" stroke="#236550"/><path d="M3119.12 83.15 A8.4 8.4 0 0 1 3119.46 83.73" stroke="#22624d"/><path d="M3119.42 83.66 A8.4 8.4 0 0 1 3119.71 84.26" stroke="#215f4a"/><path d="M3119.67 84.18 A8.4 8.4 0 0 1 3119.92 84.81" stroke="#205c48"/><path d="M3119.89 84.73 A8.4 8.4 0 0 1 3120.10 85.37" stroke="#1f5845"/><path d="M3120.07 85.28 A8.4 8.4 0 0 1 3120.23 85.94" stroke="#1e5543"/><path d="M3120.22 85.85 A8.4 8.4 0 0 1 3120.33 86.52" stroke="#1d5240"/><path d="M3120.32 86.43 A8.4 8.4 0 0 1 3120.39 87.10" stroke="#1c4f3e"/><path d="M3120.38 87.01 A8.4 8.4 0 0 1 3120.40 87.69" stroke="#1b4c3b"/></g>
<path d="M 563.6 515.7 A 389.27 389.27 0 0 1 617.1 1059.9" fill="none" stroke="#57544f" stroke-width="1.6"/>
<g mask="url(#mFade)" fill="none"><g stroke="#77a1c6" stroke-opacity="0.15" stroke-width="18"><path d="M 564.00 514.30 L 775.24 514.30 A 130 130 0 0 1 872.86 558.45 L 1054.82 765.34 A 105 105 0 0 0 1133.67 801.00 L 1185.00 801.00" /><path d="M 658.00 630.00 L 774.16 630.00 A 130 130 0 0 1 856.95 659.77 L 1056.93 824.95 A 105 105 0 0 0 1123.80 849.00 L 1185.00 849.00" /><path d="M 687.00 699.50 L 782.30 699.50 A 130 130 0 0 1 852.69 720.20 L 1054.67 850.28 A 105 105 0 0 0 1111.52 867.00 L 1185.00 867.00" /><path d="M 702 775.8 H 1185" /><path d="M 688.00 925.00 L 769.80 925.00 A 130 130 0 0 0 852.59 895.23 L 1057.41 726.05 A 105 105 0 0 1 1124.28 702.00 L 1185.00 702.00" /><path d="M 617.00 1058.50 L 746.77 1058.50 A 130 130 0 0 0 842.16 1016.82 L 1064.53 776.66 A 105 105 0 0 1 1141.58 743.00 L 1185.00 743.00" /></g><g stroke="#a0c8f0" stroke-opacity="0.27" stroke-width="2"><path d="M 564.00 514.30 L 775.24 514.30 A 130 130 0 0 1 872.86 558.45 L 1054.82 765.34 A 105 105 0 0 0 1133.67 801.00 L 1185.00 801.00" /><path d="M 658.00 630.00 L 774.16 630.00 A 130 130 0 0 1 856.95 659.77 L 1056.93 824.95 A 105 105 0 0 0 1123.80 849.00 L 1185.00 849.00" /><path d="M 687.00 699.50 L 782.30 699.50 A 130 130 0 0 1 852.69 720.20 L 1054.67 850.28 A 105 105 0 0 0 1111.52 867.00 L 1185.00 867.00" /><path d="M 702 775.8 H 1185" /><path d="M 688.00 925.00 L 769.80 925.00 A 130 130 0 0 0 852.59 895.23 L 1057.41 726.05 A 105 105 0 0 1 1124.28 702.00 L 1185.00 702.00" /><path d="M 617.00 1058.50 L 746.77 1058.50 A 130 130 0 0 0 842.16 1016.82 L 1064.53 776.66 A 105 105 0 0 1 1141.58 743.00 L 1185.00 743.00" /></g></g>
<circle cx="390" cy="514.5" r="24" fill="#1d2533"/>
<text x="431.00" y="523.00" font-size="25.15" font-weight="normal" fill="#f2f5fb" textLength="97.45" lengthAdjust="spacingAndGlyphs" stroke="#f2f5fb" stroke-width="0.6" paint-order="stroke" >Semgrep</text>
<circle cx="563.6" cy="515.6" r="23" fill="url(#gGlow)"/>
<circle cx="563.6" cy="515.6" r="8.9" fill="#0b1526" stroke="#b6dbff" stroke-width="2.4"/>
<circle cx="510" cy="630" r="24" fill="#1d2533"/>
<text x="550.00" y="638.50" font-size="25.15" font-weight="normal" fill="#f2f5fb" textLength="78.56" lengthAdjust="spacingAndGlyphs" stroke="#f2f5fb" stroke-width="0.6" paint-order="stroke" >GitHub</text>
<circle cx="658" cy="631.5" r="23" fill="url(#gGlow)"/>
<circle cx="658" cy="631.5" r="8.9" fill="#0b1526" stroke="#b6dbff" stroke-width="2.4"/>
<circle cx="546" cy="700" r="24" fill="#1d2533"/>
<text x="586.00" y="707.70" font-size="25.15" font-weight="normal" fill="#f2f5fb" textLength="72.03" lengthAdjust="spacingAndGlyphs" stroke="#f2f5fb" stroke-width="0.6" paint-order="stroke" >GitLab</text>
<circle cx="686.6" cy="700.7" r="23" fill="url(#gGlow)"/>
<circle cx="686.6" cy="700.7" r="8.9" fill="#0b1526" stroke="#b6dbff" stroke-width="2.4"/>
<circle cx="523.8" cy="774" r="24" fill="#1d2533"/>
<text x="564.80" y="782.60" font-size="25.15" font-weight="normal" fill="#f2f5fb" textLength="103.36" lengthAdjust="spacingAndGlyphs" stroke="#f2f5fb" stroke-width="0.6" paint-order="stroke" >Bitbucket</text>
<circle cx="701.7" cy="775.6" r="23" fill="url(#gGlow)"/>
<circle cx="701.7" cy="775.6" r="8.9" fill="#0b1526" stroke="#b6dbff" stroke-width="2.4"/>
<circle cx="535.9" cy="923.6" r="24" fill="#1d2533"/>
<text x="576.00" y="932.00" font-size="25.15" font-weight="normal" fill="#f2f5fb" textLength="82.22" lengthAdjust="spacingAndGlyphs" stroke="#f2f5fb" stroke-width="0.6" paint-order="stroke" >Jenkins</text>
<circle cx="688" cy="926.5" r="23" fill="url(#gGlow)"/>
<circle cx="688" cy="926.5" r="8.9" fill="#0b1526" stroke="#b6dbff" stroke-width="2.4"/>
<circle cx="488" cy="1056" r="24" fill="#1d2533"/>
<text x="528.00" y="1064.10" font-size="25.15" font-weight="normal" fill="#f2f5fb" textLength="62.43" lengthAdjust="spacingAndGlyphs" stroke="#f2f5fb" stroke-width="0.6" paint-order="stroke" >JFrog</text>
<circle cx="617" cy="1059.8" r="23" fill="url(#gGlow)"/>
<circle cx="617" cy="1059.8" r="8.9" fill="#0b1526" stroke="#b6dbff" stroke-width="2.4"/>
<g fill="none" stroke="#2ec49a" stroke-width="1.7"><circle cx="383.6" cy="514.5" r="2.8"/><circle cx="390.2" cy="514.5" r="2.8"/><circle cx="396.8" cy="514.5" r="2.8"/></g>
<path fill="#e8eef8" d="M510 619.5 a10.5 10.5 0 0 0 -3.3 20.5 c.5 .1 .7 -.2 .7 -.5 v-1.9 c-2.9 .6 -3.5 -1.2 -3.5 -1.2 c-.5 -1.2 -1.2 -1.5 -1.2 -1.5 c-.9 -.6 .1 -.6 .1 -.6 c1 .1 1.6 1.1 1.6 1.1 c.9 1.6 2.5 1.1 3.1 .9 c.1 -.7 .4 -1.1 .6 -1.4 c-2.3 -.3 -4.8 -1.2 -4.8 -5.1 c0 -1.1 .4 -2.1 1.1 -2.8 c-.1 -.3 -.5 -1.3 .1 -2.8 c0 0 .9 -.3 2.9 1.1 a10 10 0 0 1 5.3 0 c2 -1.4 2.9 -1.1 2.9 -1.1 c.6 1.5 .2 2.5 .1 2.8 c.7 .7 1.1 1.7 1.1 2.8 c0 3.9 -2.4 4.8 -4.8 5.1 c.4 .3 .7 .9 .7 1.9 v2.8 c0 .3 .2 .6 .7 .5 A10.5 10.5 0 0 0 510 619.5 Z"/>
<g><path fill="#e24329" d="M546 711 L539.5 703.5 L537 696.5 L539 690.5 L541.5 697 H550.5 L553 690.5 L555 696.5 L552.5 703.5 Z"/><path fill="#fc6d26" d="M546 711 L541.5 697 H550.5 Z"/><path fill="#fca326" d="M537 696.5 L541.5 697 L546 711 Z" opacity="0.8"/><path fill="#fca326" d="M555 696.5 L550.5 697 L546 711 Z" opacity="0.8"/></g>
<path fill="#2684ff" d="M514.5 765 H533 L530.5 783.5 H517 Z"/><path fill="#1d2533" d="M520.5 771.5 H527 L525.8 777.5 H521.7 Z"/>
<g><circle cx="535.8" cy="924.5" r="7" fill="#d33833"/><path d="M530 927 Q536 921 542 927 L541 931 Q536 934 531 931 Z" fill="#335061"/><circle cx="536.3" cy="920.3" r="4.6" fill="#f0d6b7"/><circle cx="538" cy="923.5" r="1.2" fill="#d33833"/><rect x="534" y="928" width="4" height="5.3" fill="#ffffff"/><rect x="539.5" y="927.5" width="3" height="2.5" fill="#f0f0f0"/></g>
<g fill="#12c064"><text x="478.5" y="1064.5" font-size="8.6" font-weight="bold" font-family="Liberation Sans" textLength="19" lengthAdjust="spacingAndGlyphs">JFrog</text><path d="M481.5 1051.5 Q488 1047.5 494.5 1051.5 Q494 1055 488 1055.5 Q482 1055 481.5 1051.5 Z"/></g><path d="M478.5 1046 L483.5 1051 M497.5 1046 L492.5 1051 M479.5 1053.5 Q482 1056.5 488 1057 Q494 1056.5 496.5 1053.5" stroke="#12c064" stroke-width="1.2" fill="none"/><path d="M485 1051.2 Q488 1049.8 491 1051.2" stroke="#1d2533" stroke-width="1.1" fill="none"/>
<rect x="536" y="1136" width="90" height="48" rx="6" fill="#1e2736"/>
<path d="M554.5 1159.7 H573 M563.7 1150.5 V1169" stroke="#c8def6" stroke-width="3"/>
<text x="589.40" y="1170.00" font-size="28.49" font-weight="normal" fill="#c8def6" textLength="15.53" lengthAdjust="spacingAndGlyphs" stroke="#c8def6" stroke-width="0.4" paint-order="stroke" >4</text>
<text x="1167.30" y="742.00" font-size="49.42" font-weight="bold" fill="#eef2fc" textLength="98.02" lengthAdjust="spacingAndGlyphs" >1.2M</text>
<text x="1168.50" y="787.90" font-size="28.49" font-weight="normal" fill="#e4ecf8" textLength="100.20" lengthAdjust="spacingAndGlyphs" >Issues &amp;</text>
<text x="1167.00" y="827.50" font-size="27.91" font-weight="normal" fill="#e4ecf8" textLength="103.00" lengthAdjust="spacingAndGlyphs" >Findings</text>
<g stroke-width="1.9" fill="none"><path d="M1637.00 560.20L1637.00 512.20" stroke="#13868c"/><path d="M1644.88 560.32L1646.39 512.35" stroke="#13868c"/><path d="M1652.76 560.70L1655.77 512.79" stroke="#13868c"/><path d="M1660.62 561.31L1665.14 513.53" stroke="#13868c"/><path d="M1668.46 562.18L1674.47 514.56" stroke="#13878c"/><path d="M1676.27 563.29L1683.77 515.88" stroke="#13878c"/><path d="M1684.03 564.65L1693.03 517.50" stroke="#13878c"/><path d="M1691.75 566.24L1702.22 519.40" stroke="#13878b"/><path d="M1699.42 568.09L1711.36 521.59" stroke="#13878b"/><path d="M1707.03 570.17L1720.42 524.07" stroke="#13878b"/><path d="M1714.56 572.48L1729.40 526.83" stroke="#13888b"/><path d="M1722.02 575.04L1738.28 529.88" stroke="#13888b"/><path d="M1729.40 577.83L1747.07 533.20" stroke="#13888b"/><path d="M1736.68 580.84L1755.75 536.79" stroke="#12888b"/><path d="M1743.87 584.09L1764.31 540.66" stroke="#12888b"/><path d="M1750.95 587.56L1772.74 544.79" stroke="#12888b"/><path d="M1757.92 591.25L1781.04 549.18" stroke="#12898b"/><path d="M1764.77 595.15L1789.20 553.84" stroke="#12898b"/><path d="M1771.49 599.27L1797.21 558.75" stroke="#12898b"/><path d="M1778.08 603.60L1805.06 563.90" stroke="#12898a"/><path d="M1784.53 608.14L1812.75 569.30" stroke="#12898a"/><path d="M1790.84 612.87L1820.26 574.94" stroke="#12898a"/><path d="M1796.99 617.80L1827.59 580.82" stroke="#128a8a"/><path d="M1802.99 622.92L1834.73 586.92" stroke="#128a8a"/><path d="M1808.82 628.23L1841.68 593.24" stroke="#128a8a"/><path d="M1814.48 633.72L1848.42 599.78" stroke="#128a8a"/><path d="M1819.97 639.38L1854.96 606.52" stroke="#128989"/><path d="M1825.28 645.21L1861.28 613.47" stroke="#128989"/><path d="M1830.40 651.21L1867.38 620.61" stroke="#128888"/><path d="M1835.33 657.36L1873.26 627.94" stroke="#128787"/><path d="M1840.06 663.67L1878.90 635.45" stroke="#128686"/><path d="M1844.60 670.12L1884.30 643.14" stroke="#128686"/><path d="M1848.93 676.71L1889.45 650.99" stroke="#128585"/><path d="M1853.05 683.43L1894.36 659.00" stroke="#128484"/><path d="M1856.95 690.28L1899.02 667.16" stroke="#128484"/><path d="M1860.64 697.25L1903.41 675.46" stroke="#128383"/><path d="M1864.11 704.33L1907.54 683.89" stroke="#128282"/><path d="M1867.36 711.52L1911.41 692.45" stroke="#128181"/><path d="M1870.37 718.80L1915.00 701.13" stroke="#128181"/><path d="M1873.16 726.18L1918.32 709.92" stroke="#128080"/><path d="M1875.72 733.64L1921.37 718.80" stroke="#127f7f"/><path d="M1878.03 741.17L1924.13 727.78" stroke="#127e7e"/><path d="M1880.11 748.78L1926.61 736.84" stroke="#127e7e"/><path d="M1881.96 756.45L1928.80 745.98" stroke="#127d7d"/><path d="M1883.55 764.17L1930.70 755.17" stroke="#127c7c"/><path d="M1884.91 771.93L1932.32 764.43" stroke="#127c7c"/><path d="M1886.02 779.74L1933.64 773.73" stroke="#127b7b"/><path d="M1886.89 787.58L1934.67 783.06" stroke="#127a7a"/><path d="M1887.50 795.44L1935.41 792.43" stroke="#127979"/><path d="M1887.88 803.32L1935.85 801.81" stroke="#127979"/><path d="M1888.00 811.20L1936.00 811.20" stroke="#127878"/><path d="M1887.88 819.08L1935.85 820.59" stroke="#127878"/><path d="M1887.50 826.96L1935.41 829.97" stroke="#127778"/><path d="M1886.89 834.82L1934.67 839.34" stroke="#127779"/><path d="M1886.02 842.66L1933.64 848.67" stroke="#127779"/><path d="M1884.91 850.47L1932.32 857.97" stroke="#127679"/><path d="M1883.55 858.23L1930.70 867.23" stroke="#127679"/><path d="M1881.96 865.95L1928.80 876.42" stroke="#11767a"/><path d="M1880.11 873.62L1926.61 885.56" stroke="#11757a"/><path d="M1878.03 881.23L1924.13 894.62" stroke="#11757a"/><path d="M1875.72 888.76L1921.37 903.60" stroke="#11757a"/><path d="M1873.16 896.22L1918.32 912.48" stroke="#11747b"/><path d="M1870.37 903.60L1915.00 921.27" stroke="#11747b"/><path d="M1867.36 910.88L1911.41 929.95" stroke="#11747b"/><path d="M1864.11 918.07L1907.54 938.51" stroke="#11747b"/><path d="M1860.64 925.15L1903.41 946.94" stroke="#11737c"/><path d="M1856.95 932.12L1899.02 955.24" stroke="#11737c"/><path d="M1853.05 938.97L1894.36 963.40" stroke="#11737c"/><path d="M1848.93 945.69L1889.45 971.41" stroke="#11727c"/><path d="M1844.60 952.28L1884.30 979.26" stroke="#10727d"/><path d="M1840.06 958.73L1878.90 986.95" stroke="#10727d"/><path d="M1835.33 965.04L1873.26 994.46" stroke="#10717d"/><path d="M1830.40 971.19L1867.38 1001.79" stroke="#10717d"/><path d="M1825.28 977.19L1861.28 1008.93" stroke="#10717e"/><path d="M1819.97 983.02L1854.96 1015.88" stroke="#10707e"/><path d="M1814.48 988.68L1848.42 1022.62" stroke="#10707e"/><path d="M1808.82 994.17L1841.68 1029.16" stroke="#106f7e"/><path d="M1802.99 999.48L1834.73 1035.48" stroke="#106f7e"/><path d="M1796.99 1004.60L1827.59 1041.58" stroke="#106e7d"/><path d="M1790.84 1009.53L1820.26 1047.46" stroke="#106d7d"/><path d="M1784.53 1014.26L1812.75 1053.10" stroke="#0f6d7d"/><path d="M1778.08 1018.80L1805.06 1058.50" stroke="#0f6c7d"/><path d="M1771.49 1023.13L1797.21 1063.65" stroke="#0f6c7c"/><path d="M1764.77 1027.25L1789.20 1068.56" stroke="#0f6b7c"/><path d="M1757.92 1031.15L1781.04 1073.22" stroke="#0f6a7c"/><path d="M1750.95 1034.84L1772.74 1077.61" stroke="#0f6a7c"/><path d="M1743.87 1038.31L1764.31 1081.74" stroke="#0f697b"/><path d="M1736.68 1041.56L1755.75 1085.61" stroke="#0f687b"/><path d="M1729.40 1044.57L1747.07 1089.20" stroke="#0e687b"/><path d="M1722.02 1047.36L1738.28 1092.52" stroke="#0e677b"/><path d="M1714.56 1049.92L1729.40 1095.57" stroke="#0e667a"/><path d="M1707.03 1052.23L1720.42 1098.33" stroke="#0e667a"/><path d="M1699.42 1054.31L1711.36 1100.81" stroke="#0e657a"/><path d="M1691.75 1056.16L1702.22 1103.00" stroke="#0e647a"/><path d="M1684.03 1057.75L1693.03 1104.90" stroke="#0e6479"/><path d="M1676.27 1059.11L1683.77 1106.52" stroke="#0e6379"/><path d="M1668.46 1060.22L1674.47 1107.84" stroke="#0d6379"/><path d="M1660.62 1061.09L1665.14 1108.87" stroke="#0d6279"/><path d="M1652.76 1061.70L1655.77 1109.61" stroke="#0d6178"/><path d="M1644.88 1062.08L1646.39 1110.05" stroke="#0d6178"/><path d="M1637.00 1062.20L1637.00 1110.20" stroke="#0d6078"/><path d="M1629.12 1062.08L1627.61 1110.05" stroke="#0d6079"/><path d="M1621.24 1061.70L1618.23 1109.61" stroke="#0d6079"/><path d="M1613.38 1061.09L1608.86 1108.87" stroke="#0d607a"/><path d="M1605.54 1060.22L1599.53 1107.84" stroke="#0d617b"/><path d="M1597.73 1059.11L1590.23 1106.52" stroke="#0d617b"/><path d="M1589.97 1057.75L1580.97 1104.90" stroke="#0d617c"/><path d="M1582.25 1056.16L1571.78 1103.00" stroke="#0d617c"/><path d="M1574.58 1054.31L1562.64 1100.81" stroke="#0d617d"/><path d="M1566.97 1052.23L1553.58 1098.33" stroke="#0d617e"/><path d="M1559.44 1049.92L1544.60 1095.57" stroke="#0d627e"/><path d="M1551.98 1047.36L1535.72 1092.52" stroke="#0d627f"/><path d="M1544.60 1044.57L1526.93 1089.20" stroke="#0d6280"/><path d="M1537.32 1041.56L1518.25 1085.61" stroke="#0e6280"/><path d="M1530.13 1038.31L1509.69 1081.74" stroke="#0e6281"/><path d="M1523.05 1034.84L1501.26 1077.61" stroke="#0e6282"/><path d="M1516.08 1031.15L1492.96 1073.22" stroke="#0e6382"/><path d="M1509.23 1027.25L1484.80 1068.56" stroke="#0e6383"/><path d="M1502.51 1023.13L1476.79 1063.65" stroke="#0e6384"/><path d="M1495.92 1018.80L1468.94 1058.50" stroke="#0e6384"/><path d="M1489.47 1014.26L1461.25 1053.10" stroke="#0e6385"/><path d="M1483.16 1009.53L1453.74 1047.46" stroke="#0e6385"/><path d="M1477.01 1004.60L1446.41 1041.58" stroke="#0e6486"/><path d="M1471.01 999.48L1439.27 1035.48" stroke="#0e6487"/><path d="M1465.18 994.17L1432.32 1029.16" stroke="#0e6487"/><path d="M1459.52 988.68L1425.58 1022.62" stroke="#0e6488"/><path d="M1454.03 983.02L1419.04 1015.88" stroke="#0e6488"/><path d="M1448.72 977.19L1412.72 1008.93" stroke="#0e6489"/><path d="M1443.60 971.19L1406.62 1001.79" stroke="#0e6589"/><path d="M1438.67 965.04L1400.74 994.46" stroke="#0e658a"/><path d="M1433.94 958.73L1395.10 986.95" stroke="#0e658a"/><path d="M1429.40 952.28L1389.70 979.26" stroke="#0e658a"/><path d="M1425.07 945.69L1384.55 971.41" stroke="#0e668b"/><path d="M1420.95 938.97L1379.64 963.40" stroke="#0e668b"/><path d="M1417.05 932.12L1374.98 955.24" stroke="#0e668c"/><path d="M1413.36 925.15L1370.59 946.94" stroke="#0e668c"/><path d="M1409.89 918.07L1366.46 938.51" stroke="#0e678c"/><path d="M1406.64 910.88L1362.59 929.95" stroke="#0e678d"/><path d="M1403.63 903.60L1359.00 921.27" stroke="#0e678d"/><path d="M1400.84 896.22L1355.68 912.48" stroke="#0e678e"/><path d="M1398.28 888.76L1352.63 903.60" stroke="#0e688e"/><path d="M1395.97 881.23L1349.87 894.62" stroke="#0e688e"/><path d="M1393.89 873.62L1347.39 885.56" stroke="#0e688f"/><path d="M1392.04 865.95L1345.20 876.42" stroke="#0e688f"/><path d="M1390.45 858.23L1343.30 867.23" stroke="#0e6990"/><path d="M1389.09 850.47L1341.68 857.97" stroke="#0e6990"/><path d="M1387.98 842.66L1340.36 848.67" stroke="#0e6990"/><path d="M1387.11 834.82L1339.33 839.34" stroke="#0e6991"/><path d="M1386.50 826.96L1338.59 829.97" stroke="#0e6a91"/><path d="M1386.12 819.08L1338.15 820.59" stroke="#0e6a92"/><path d="M1386.00 811.20L1338.00 811.20" stroke="#0e6a92"/><path d="M1386.12 803.32L1338.15 801.81" stroke="#0e6b92"/><path d="M1386.50 795.44L1338.59 792.43" stroke="#0e6b92"/><path d="M1387.11 787.58L1339.33 783.06" stroke="#0e6c92"/><path d="M1387.98 779.74L1340.36 773.73" stroke="#0e6d92"/><path d="M1389.09 771.93L1341.68 764.43" stroke="#0f6d92"/><path d="M1390.45 764.17L1343.30 755.17" stroke="#0f6e92"/><path d="M1392.04 756.45L1345.20 745.98" stroke="#0f6e93"/><path d="M1393.89 748.78L1347.39 736.84" stroke="#0f6f93"/><path d="M1395.97 741.17L1349.87 727.78" stroke="#0f7093"/><path d="M1398.28 733.64L1352.63 718.80" stroke="#0f7093"/><path d="M1400.84 726.18L1355.68 709.92" stroke="#0f7193"/><path d="M1403.63 718.80L1359.00 701.13" stroke="#0f7293"/><path d="M1406.64 711.52L1362.59 692.45" stroke="#107293"/><path d="M1409.89 704.33L1366.46 683.89" stroke="#107393"/><path d="M1413.36 697.25L1370.59 675.46" stroke="#107493"/><path d="M1417.05 690.28L1374.98 667.16" stroke="#107493"/><path d="M1420.95 683.43L1379.64 659.00" stroke="#107593"/><path d="M1425.07 676.71L1384.55 650.99" stroke="#107693"/><path d="M1429.40 670.12L1389.70 643.14" stroke="#107694"/><path d="M1433.94 663.67L1395.10 635.45" stroke="#107794"/><path d="M1438.67 657.36L1400.74 627.94" stroke="#117794"/><path d="M1443.60 651.21L1406.62 620.61" stroke="#117894"/><path d="M1448.72 645.21L1412.72 613.47" stroke="#117994"/><path d="M1454.03 639.38L1419.04 606.52" stroke="#117994"/><path d="M1459.52 633.72L1425.58 599.78" stroke="#117a94"/><path d="M1465.18 628.23L1432.32 593.24" stroke="#117a94"/><path d="M1471.01 622.92L1439.27 586.92" stroke="#117b93"/><path d="M1477.01 617.80L1446.41 580.82" stroke="#117b93"/><path d="M1483.16 612.87L1453.74 574.94" stroke="#117c93"/><path d="M1489.47 608.14L1461.25 569.30" stroke="#117c92"/><path d="M1495.92 603.60L1468.94 563.90" stroke="#117d92"/><path d="M1502.51 599.27L1476.79 558.75" stroke="#127d92"/><path d="M1509.23 595.15L1484.80 553.84" stroke="#127e91"/><path d="M1516.08 591.25L1492.96 549.18" stroke="#127e91"/><path d="M1523.05 587.56L1501.26 544.79" stroke="#127f91"/><path d="M1530.13 584.09L1509.69 540.66" stroke="#127f90"/><path d="M1537.32 580.84L1518.25 536.79" stroke="#128090"/><path d="M1544.60 577.83L1526.93 533.20" stroke="#128090"/><path d="M1551.98 575.04L1535.72 529.88" stroke="#128190"/><path d="M1559.44 572.48L1544.60 526.83" stroke="#12818f"/><path d="M1566.97 570.17L1553.58 524.07" stroke="#12828f"/><path d="M1574.58 568.09L1562.64 521.59" stroke="#12828f"/><path d="M1582.25 566.24L1571.78 519.40" stroke="#12838e"/><path d="M1589.97 564.65L1580.97 517.50" stroke="#13838e"/><path d="M1597.73 563.29L1590.23 515.88" stroke="#13848e"/><path d="M1605.54 562.18L1599.53 514.56" stroke="#13848d"/><path d="M1613.38 561.31L1608.86 513.53" stroke="#13858d"/><path d="M1621.24 560.70L1618.23 512.79" stroke="#13858d"/><path d="M1629.12 560.32L1627.61 512.35" stroke="#13868c"/></g>
<g><circle cx="1637.00" cy="713.20" r="3.5" fill="#90c9c1"/><circle cx="1662.36" cy="716.54" r="3.5" fill="#90c9c1"/><circle cx="1686.00" cy="726.33" r="3.5" fill="#90c9c1"/><circle cx="1706.30" cy="741.90" r="3.5" fill="#90c9c1"/><circle cx="1721.87" cy="762.20" r="3.5" fill="#90c9c1"/><circle cx="1731.66" cy="785.84" r="3.5" fill="#90c9c1"/><circle cx="1735.00" cy="811.20" r="3.5" fill="#90c9c1"/><circle cx="1731.66" cy="836.56" r="3.5" fill="#90c9c1"/><circle cx="1721.87" cy="860.20" r="3.5" fill="#90c9c1"/><circle cx="1706.30" cy="880.50" r="3.5" fill="#90c9c1"/><circle cx="1686.00" cy="896.07" r="3.5" fill="#90c9c1"/><circle cx="1662.36" cy="905.86" r="3.5" fill="#90c9c1"/><circle cx="1637.00" cy="909.20" r="3.5" fill="#90c9c1"/><circle cx="1611.64" cy="905.86" r="3.5" fill="#90c9c1"/><circle cx="1588.00" cy="896.07" r="3.5" fill="#90c9c1"/><circle cx="1567.70" cy="880.50" r="3.5" fill="#90c9c1"/><circle cx="1552.13" cy="860.20" r="3.5" fill="#90c9c1"/><circle cx="1542.34" cy="836.56" r="3.5" fill="#90c9c1"/><circle cx="1539.00" cy="811.20" r="3.5" fill="#90c9c1"/><circle cx="1542.34" cy="785.84" r="3.5" fill="#90c9c1"/><circle cx="1552.13" cy="762.20" r="3.5" fill="#90c9c1"/><circle cx="1567.70" cy="741.90" r="3.5" fill="#90c9c1"/><circle cx="1588.00" cy="726.33" r="3.5" fill="#90c9c1"/><circle cx="1611.64" cy="716.54" r="3.5" fill="#90c9c1"/><circle cx="1637.00" cy="736.20" r="3.3" fill="#90c9c1"/><circle cx="1656.41" cy="738.76" r="3.3" fill="#90c9c1"/><circle cx="1674.50" cy="746.25" r="3.3" fill="#90c9c1"/><circle cx="1690.03" cy="758.17" r="3.3" fill="#90c9c1"/><circle cx="1701.95" cy="773.70" r="3.3" fill="#90c9c1"/><circle cx="1709.44" cy="791.79" r="3.3" fill="#90c9c1"/><circle cx="1712.00" cy="811.20" r="3.3" fill="#90c9c1"/><circle cx="1709.44" cy="830.61" r="3.3" fill="#90c9c1"/><circle cx="1701.95" cy="848.70" r="3.3" fill="#90c9c1"/><circle cx="1690.03" cy="864.23" r="3.3" fill="#90c9c1"/><circle cx="1674.50" cy="876.15" r="3.3" fill="#90c9c1"/><circle cx="1656.41" cy="883.64" r="3.3" fill="#90c9c1"/><circle cx="1637.00" cy="886.20" r="3.3" fill="#90c9c1"/><circle cx="1617.59" cy="883.64" r="3.3" fill="#90c9c1"/><circle cx="1599.50" cy="876.15" r="3.3" fill="#90c9c1"/><circle cx="1583.97" cy="864.23" r="3.3" fill="#90c9c1"/><circle cx="1572.05" cy="848.70" r="3.3" fill="#90c9c1"/><circle cx="1564.56" cy="830.61" r="3.3" fill="#90c9c1"/><circle cx="1562.00" cy="811.20" r="3.3" fill="#90c9c1"/><circle cx="1564.56" cy="791.79" r="3.3" fill="#90c9c1"/><circle cx="1572.05" cy="773.70" r="3.3" fill="#90c9c1"/><circle cx="1583.97" cy="758.17" r="3.3" fill="#90c9c1"/><circle cx="1599.50" cy="746.25" r="3.3" fill="#90c9c1"/><circle cx="1617.59" cy="738.76" r="3.3" fill="#90c9c1"/><circle cx="1637.00" cy="759.20" r="1.8" fill="#3a7ec8"/><circle cx="1650.46" cy="760.97" r="1.8" fill="#b84db5"/><circle cx="1663.00" cy="766.17" r="1.8" fill="#90c9c1"/><circle cx="1673.77" cy="774.43" r="1.8" fill="#90c9c1"/><circle cx="1682.03" cy="785.20" r="1.8" fill="#3a7ec8"/><circle cx="1687.23" cy="797.74" r="1.8" fill="#3a7ec8"/><circle cx="1689.00" cy="811.20" r="1.8" fill="#3a7ec8"/><circle cx="1687.23" cy="824.66" r="1.8" fill="#b84db5"/><circle cx="1682.03" cy="837.20" r="1.8" fill="#90c9c1"/><circle cx="1673.77" cy="847.97" r="1.8" fill="#90c9c1"/><circle cx="1663.00" cy="856.23" r="1.8" fill="#3a7ec8"/><circle cx="1650.46" cy="861.43" r="1.8" fill="#3a7ec8"/><circle cx="1637.00" cy="863.20" r="1.8" fill="#3a7ec8"/><circle cx="1623.54" cy="861.43" r="1.8" fill="#b84db5"/><circle cx="1611.00" cy="856.23" r="1.8" fill="#90c9c1"/><circle cx="1600.23" cy="847.97" r="1.8" fill="#90c9c1"/><circle cx="1591.97" cy="837.20" r="1.8" fill="#3a7ec8"/><circle cx="1586.77" cy="824.66" r="1.8" fill="#3a7ec8"/><circle cx="1585.00" cy="811.20" r="1.8" fill="#3a7ec8"/><circle cx="1586.77" cy="797.74" r="1.8" fill="#b84db5"/><circle cx="1591.97" cy="785.20" r="1.8" fill="#90c9c1"/><circle cx="1600.23" cy="774.43" r="1.8" fill="#90c9c1"/><circle cx="1611.00" cy="766.17" r="1.8" fill="#3a7ec8"/><circle cx="1623.54" cy="760.97" r="1.8" fill="#3a7ec8"/><circle cx="1637.00" cy="773.20" r="1.8" fill="#3a7ec8"/><circle cx="1648.74" cy="775.06" r="1.8" fill="#b84db5"/><circle cx="1659.34" cy="780.46" r="1.8" fill="#3a7ec8"/><circle cx="1667.74" cy="788.86" r="1.8" fill="#3a7ec8"/><circle cx="1673.14" cy="799.46" r="1.8" fill="#90c9c1"/><circle cx="1675.00" cy="811.20" r="1.8" fill="#3a7ec8"/><circle cx="1673.14" cy="822.94" r="1.8" fill="#b84db5"/><circle cx="1667.74" cy="833.54" r="1.8" fill="#3a7ec8"/><circle cx="1659.34" cy="841.94" r="1.8" fill="#b84db5"/><circle cx="1648.74" cy="847.34" r="1.8" fill="#3a7ec8"/><circle cx="1637.00" cy="849.20" r="1.8" fill="#90c9c1"/><circle cx="1625.26" cy="847.34" r="1.8" fill="#b84db5"/><circle cx="1614.66" cy="841.94" r="1.8" fill="#3a7ec8"/><circle cx="1606.26" cy="833.54" r="1.8" fill="#b84db5"/><circle cx="1600.86" cy="822.94" r="1.8" fill="#3a7ec8"/><circle cx="1599.00" cy="811.20" r="1.8" fill="#3a7ec8"/><circle cx="1600.86" cy="799.46" r="1.8" fill="#90c9c1"/><circle cx="1606.26" cy="788.86" r="1.8" fill="#3a7ec8"/><circle cx="1614.66" cy="780.46" r="1.8" fill="#b84db5"/><circle cx="1625.26" cy="775.06" r="1.8" fill="#3a7ec8"/><circle cx="1637.00" cy="785.70" r="1.7" fill="#90c9c1"/><circle cx="1649.75" cy="789.12" r="1.7" fill="#3a7ec8"/><circle cx="1659.08" cy="798.45" r="1.7" fill="#b84db5"/><circle cx="1662.50" cy="811.20" r="1.7" fill="#90c9c1"/><circle cx="1659.08" cy="823.95" r="1.7" fill="#3a7ec8"/><circle cx="1649.75" cy="833.28" r="1.7" fill="#b84db5"/><circle cx="1637.00" cy="836.70" r="1.7" fill="#90c9c1"/><circle cx="1624.25" cy="833.28" r="1.7" fill="#3a7ec8"/><circle cx="1614.92" cy="823.95" r="1.7" fill="#b84db5"/><circle cx="1611.50" cy="811.20" r="1.7" fill="#90c9c1"/><circle cx="1614.92" cy="798.45" r="1.7" fill="#3a7ec8"/><circle cx="1624.25" cy="789.12" r="1.7" fill="#b84db5"/><circle cx="1627.3" cy="592.1" r="2.67" fill="#7b4fe0"/><circle cx="1582.3" cy="599.3" r="3.45" fill="#b84db5"/><circle cx="1559.5" cy="605.2" r="3.45" fill="#90c9c1"/><circle cx="1576.4" cy="618.6" r="2.48" fill="#7b4fe0"/><circle cx="1602" cy="619.8" r="3.59" fill="#90c9c1"/><circle cx="1613.2" cy="626.4" r="2.12" fill="#90c9c1"/><circle cx="1638" cy="614.5" r="2.48" fill="#90c9c1"/><circle cx="1508.6" cy="632.1" r="4.14" fill="#90c9c1"/><circle cx="1541.4" cy="633.6" r="3.13" fill="#90c9c1"/><circle cx="1531.4" cy="640.4" r="3.77" fill="#3a7ec8"/><circle cx="1560.9" cy="643.4" r="2.76" fill="#90c9c1"/><circle cx="1490.7" cy="649.1" r="2.67" fill="#b84db5"/><circle cx="1510.2" cy="652.9" r="2.48" fill="#90c9c1"/><circle cx="1469.5" cy="671.4" r="3.31" fill="#90c9c1"/><circle cx="1500.4" cy="677.9" r="3.31" fill="#7b4fe0"/><circle cx="1481.6" cy="694.3" r="2.30" fill="#90c9c1"/><circle cx="1463.9" cy="702.3" r="3.13" fill="#7b4fe0"/><circle cx="1446.8" cy="721.6" r="2.30" fill="#90c9c1"/><circle cx="1474.5" cy="722.3" r="3.59" fill="#90c9c1"/><circle cx="1446.6" cy="731.4" r="2.48" fill="#90c9c1"/><circle cx="1466.6" cy="754.6" r="2.30" fill="#90c9c1"/><circle cx="1449.5" cy="757.7" r="3.31" fill="#90c9c1"/><circle cx="1447.3" cy="775.7" r="3.96" fill="#90c9c1"/><circle cx="1435" cy="784.3" r="3.13" fill="#90c9c1"/><circle cx="1447.3" cy="796.4" r="3.13" fill="#90c9c1"/><circle cx="1434.6" cy="810" r="2.67" fill="#7b4fe0"/><circle cx="1663.4" cy="614.1" r="2.76" fill="#90c9c1"/><circle cx="1693.75" cy="611.4" r="3.59" fill="#90c9c1"/><circle cx="1707" cy="606.6" r="3.13" fill="#90c9c1"/><circle cx="1647.9" cy="625.2" r="2.76" fill="#90c9c1"/><circle cx="1676.25" cy="632.1" r="2.76" fill="#3a7ec8"/><circle cx="1707" cy="633" r="3.77" fill="#7b4fe0"/><circle cx="1723.75" cy="635.7" r="3.45" fill="#90c9c1"/><circle cx="1740.7" cy="631.4" r="2.76" fill="#90c9c1"/><circle cx="1745.4" cy="643.6" r="3.96" fill="#90c9c1"/><circle cx="1762.5" cy="640.2" r="3.31" fill="#90c9c1"/><circle cx="1769.6" cy="650" r="3.59" fill="#90c9c1"/><circle cx="1784.6" cy="654.5" r="3.31" fill="#90c9c1"/><circle cx="1770.4" cy="684.1" r="2.30" fill="#90c9c1"/><circle cx="1782" cy="696.1" r="2.30" fill="#90c9c1"/><circle cx="1811.6" cy="690.5" r="2.67" fill="#7b4fe0"/><circle cx="1823" cy="693.4" r="3.31" fill="#90c9c1"/><circle cx="1811.25" cy="713" r="3.77" fill="#90c9c1"/><circle cx="1799.3" cy="734.1" r="2.67" fill="#90c9c1"/><circle cx="1814.3" cy="743.4" r="3.13" fill="#90c9c1"/><circle cx="1824.8" cy="753.75" r="3.59" fill="#3a7ec8"/><circle cx="1846.25" cy="760.7" r="2.94" fill="#90c9c1"/><circle cx="1815.9" cy="777.3" r="3.31" fill="#b84db5"/><circle cx="1828.4" cy="787.5" r="2.67" fill="#90c9c1"/><circle cx="1829.6" cy="801.8" r="3.77" fill="#90c9c1"/><circle cx="1857.3" cy="813.2" r="2.30" fill="#90c9c1"/><circle cx="1833" cy="826.6" r="2.94" fill="#90c9c1"/><circle cx="1848.9" cy="836.6" r="3.77" fill="#7b4fe0"/><circle cx="1823.4" cy="846.1" r="3.31" fill="#b84db5"/><circle cx="1818.4" cy="861.6" r="3.13" fill="#90c9c1"/><circle cx="1834.5" cy="873" r="3.31" fill="#90c9c1"/><circle cx="1835.5" cy="891.1" r="4.14" fill="#3a7ec8"/><circle cx="1830.5" cy="906.1" r="3.45" fill="#90c9c1"/><circle cx="1810.7" cy="908.6" r="3.45" fill="#3a7ec8"/><circle cx="1821.6" cy="929.8" r="2.76" fill="#90c9c1"/><circle cx="1804.3" cy="938.6" r="2.48" fill="#90c9c1"/><circle cx="1800.7" cy="952.1" r="3.96" fill="#90c9c1"/><circle cx="1791.6" cy="953.75" r="2.76" fill="#90c9c1"/><circle cx="1763.2" cy="950.9" r="3.77" fill="#7b4fe0"/><circle cx="1752.7" cy="955.5" r="2.48" fill="#90c9c1"/><circle cx="1748.9" cy="967.3" r="2.76" fill="#90c9c1"/><circle cx="1733.2" cy="970.4" r="3.96" fill="#90c9c1"/><circle cx="1715.5" cy="984.5" r="3.31" fill="#90c9c1"/><circle cx="1738.6" cy="995.5" r="3.31" fill="#90c9c1"/><circle cx="1711.25" cy="1000.4" r="2.30" fill="#90c9c1"/><circle cx="1682.9" cy="1005.4" r="3.31" fill="#3a7ec8"/><circle cx="1671.6" cy="1011.4" r="2.48" fill="#90c9c1"/><circle cx="1703.6" cy="1020.4" r="2.48" fill="#3a7ec8"/><circle cx="1651.1" cy="1027.9" r="3.45" fill="#b84db5"/><circle cx="1659.1" cy="1026.6" r="3.13" fill="#90c9c1"/><circle cx="1635.4" cy="987" r="2.94" fill="#90c9c1"/><circle cx="1420.5" cy="823.6" r="3.96" fill="#90c9c1"/><circle cx="1446.25" cy="829.5" r="3.45" fill="#90c9c1"/><circle cx="1425" cy="846.8" r="3.77" fill="#3a7ec8"/><circle cx="1455.7" cy="856.4" r="3.31" fill="#90c9c1"/><circle cx="1461.8" cy="866.6" r="2.48" fill="#7b4fe0"/><circle cx="1449.8" cy="879.5" r="3.31" fill="#90c9c1"/><circle cx="1473.2" cy="887.5" r="4.14" fill="#90c9c1"/><circle cx="1446.6" cy="911.4" r="2.12" fill="#90c9c1"/><circle cx="1473.9" cy="922.1" r="3.59" fill="#b84db5"/><circle cx="1454.8" cy="926.4" r="3.31" fill="#90c9c1"/><circle cx="1483.75" cy="937.7" r="2.94" fill="#90c9c1"/><circle cx="1475.9" cy="954.6" r="3.59" fill="#90c9c1"/><circle cx="1489.5" cy="967.9" r="2.48" fill="#90c9c1"/><circle cx="1503.9" cy="969.8" r="3.77" fill="#90c9c1"/><circle cx="1507" cy="981.25" r="3.13" fill="#90c9c1"/><circle cx="1526.25" cy="979.1" r="2.67" fill="#90c9c1"/><circle cx="1549.3" cy="971.25" r="2.67" fill="#90c9c1"/><circle cx="1557.9" cy="969.1" r="2.48" fill="#90c9c1"/><circle cx="1570.2" cy="978.9" r="3.96" fill="#3a7ec8"/><circle cx="1587.1" cy="996.25" r="2.48" fill="#90c9c1"/><circle cx="1569.5" cy="1005" r="4.14" fill="#90c9c1"/><circle cx="1610.4" cy="1000" r="2.76" fill="#7b4fe0"/><circle cx="1621.8" cy="1000.9" r="3.31" fill="#90c9c1"/><circle cx="1593.2" cy="1018.6" r="3.45" fill="#90c9c1"/></g>
<path d="M 1610.2 466.8 A 322.84 322.84 0 0 0 1389.3 551.6" fill="none" stroke="#11908f" stroke-width="2"/>
<path d="M 1389.3 551.6 A 322.84 322.84 0 0 0 1285.0 772.7" fill="none" stroke="url(#gDashL)" stroke-width="2" stroke-dasharray="3 7"/>
<circle cx="1610.2" cy="466.8" r="5.3" fill="#232526" stroke="#1bb8c4" stroke-width="2"/>
<circle cx="1460.9" cy="501.4" r="5.3" fill="#232526" stroke="#1bb8c4" stroke-width="2"/>
<circle cx="1389.3" cy="551.6" r="5.3" fill="#232526" stroke="#1bb8c4" stroke-width="2"/>
<path d="M 1972.1 945.9 A 330.29 330.29 0 0 1 1858.6 1102.2" fill="none" stroke="url(#gAppTop)" stroke-width="2"/>
<path d="M 1858.6 1102.2 A 330.29 330.29 0 0 1 1662.7 1168.6" fill="none" stroke="url(#gDashR)" stroke-width="2" stroke-dasharray="3 8"/>
<circle cx="1902.1" cy="1062.8" r="5.3" fill="#232526" stroke="#1bb8c4" stroke-width="2"/>
<text x="1353.20" y="424.20" font-size="24.27" font-weight="normal" fill="#8a9ab5" textLength="239.78" lengthAdjust="spacingAndGlyphs" >Azure Cloud Accounts</text>
<text x="1611.00" y="424.20" font-size="24.27" font-weight="normal" fill="#8a9ab5" textLength="21.45" lengthAdjust="spacingAndGlyphs" >17</text>
<text x="1157.60" y="489.90" font-size="24.27" font-weight="normal" fill="#8a9ab5" textLength="230.34" lengthAdjust="spacingAndGlyphs" >AWS Cloud Accounts</text>
<text x="1400.00" y="489.90" font-size="24.27" font-weight="normal" fill="#8a9ab5" textLength="36.17" lengthAdjust="spacingAndGlyphs" >159</text>
<text x="1026.80" y="564.40" font-size="24.27" font-weight="normal" fill="#8a9ab5" textLength="256.23" lengthAdjust="spacingAndGlyphs" >Google Cloud Accounts</text>
<text x="1294.80" y="564.40" font-size="24.27" font-weight="normal" fill="#8a9ab5" textLength="34.17" lengthAdjust="spacingAndGlyphs" >173</text>
<text x="1912.90" y="1099.60" font-size="23.40" font-weight="normal" fill="#8a9ab5" textLength="133.16" lengthAdjust="spacingAndGlyphs" >Applications</text>
<text x="2057.90" y="1099.60" font-size="23.40" font-weight="normal" fill="#8a9ab5" textLength="32.09" lengthAdjust="spacingAndGlyphs" >116</text>
<g fill="#b9b9b9"><path d="M1322 404.7 L1311 424 L1307.6 430 H1317 L1330 406.5 Z"/><path d="M1325.5 413 L1333 427 L1321.5 428.5 L1340.3 430 Z"/></g>
<text x="1113" y="482" font-size="14" fill="#c6c6c6" font-family="Liberation Sans" textLength="30" lengthAdjust="spacingAndGlyphs">aws</text>
<path d="M1113 487 Q1127 495 1141 487 M1137.5 485.5 L1142 486.5 L1140.5 491" stroke="#c6c6c6" stroke-width="1.7" fill="none" stroke-linecap="round"/>
<g fill="#bebebe"><circle cx="988.6" cy="563.2" r="6.7"/><circle cx="998" cy="556.8" r="12.8"/><circle cx="1007.5" cy="563.2" r="6.7"/><rect x="988.6" y="556" width="18.9" height="13.9"/></g>
<g fill="#0c1526"><rect x="991" y="557" width="13.5" height="6.9"/><circle cx="991" cy="560.4" r="3.6"/><circle cx="1004.5" cy="560.4" r="3.6"/><circle cx="998.6" cy="556" r="6.8"/></g>
<path fill="#bebebe" d="M990 551 L993 551.3 L998.1 555.3 L994.4 559.2 L991.5 557.2 L989.5 556 Z"/>
<text x="1997.40" y="762.50" font-size="50.87" font-weight="bold" fill="#eef2fc" textLength="87.82" lengthAdjust="spacingAndGlyphs" >600</text>
<text x="2004.60" y="807.80" font-size="27.91" font-weight="normal" fill="#d8e4f4" textLength="74.89" lengthAdjust="spacingAndGlyphs" >Cases</text>
<path d="M 2128.00 767.50 L 2139.94 767.50 A 100 100 0 0 0 2227.08 716.56 L 2312.75 564.39 A 95 95 0 0 1 2395.54 516.00 L 2478.00 516.00" fill="none" stroke="url(#gOpenC)" stroke-width="15.5"/>
<g mask="url(#mClosed)"><path d="M 2128.00 796.00 L 2176.18 796.00 A 100 100 0 0 1 2230.95 812.33 L 2299.45 857.17 A 100 100 0 0 0 2354.22 873.50 L 2460.00 873.50" fill="none" stroke="#0b5a5d" stroke-width="9"/></g>
<text x="2496.00" y="484.00" font-size="31.40" font-weight="bold" fill="#eef2fa" textLength="58.45" lengthAdjust="spacingAndGlyphs" >420</text>
<text x="2496.00" y="540.00" font-size="31.40" font-weight="normal" fill="#eef2fa" textLength="79.04" lengthAdjust="spacingAndGlyphs" stroke="#eef2fa" stroke-width="0.7" paint-order="stroke" >Open</text>
<rect x="2601.5" y="451" width="293.5" height="45.5" rx="6" fill="#2b0512" stroke="#6e0f2c" stroke-width="2"/>
<circle cx="2628" cy="473.7" r="13.4" fill="#fbc9da"/>
<path d="M2628 466.5 V474 L2632 478" stroke="#2b0512" stroke-width="2.6" fill="none" stroke-linecap="round"/>
<text x="2654.00" y="484.00" font-size="28.20" font-weight="normal" fill="#f8d2de" textLength="180.63" lengthAdjust="spacingAndGlyphs" >SLA Violations</text>
<rect x="2843" y="462" width="1.3" height="24" fill="#7a4656"/>
<text x="2853.00" y="484.00" font-size="28.20" font-weight="bold" fill="#f8d2de" textLength="27.06" lengthAdjust="spacingAndGlyphs" >17</text>
<rect x="2496" y="584.5" width="32" height="31" rx="4" fill="#8e0915"/>
<text x="2504.50" y="608.00" font-size="21.80" font-weight="bold" fill="#fff" textLength="15.05" lengthAdjust="spacingAndGlyphs" >C</text>
<text x="2539.00" y="608.40" font-size="23.98" font-weight="normal" fill="#eef2fa" textLength="24.05" lengthAdjust="spacingAndGlyphs" >14</text>
<rect x="2594" y="584.5" width="32" height="31" rx="4" fill="#d33c3c"/>
<text x="2602.50" y="608.00" font-size="21.80" font-weight="bold" fill="#fff" textLength="15.05" lengthAdjust="spacingAndGlyphs" >H</text>
<text x="2635.00" y="608.40" font-size="23.98" font-weight="normal" fill="#eef2fa" textLength="28.06" lengthAdjust="spacingAndGlyphs" >36</text>
<text x="2496.00" y="845.60" font-size="31.40" font-weight="bold" fill="#eef2fa" textLength="52.95" lengthAdjust="spacingAndGlyphs" >180</text>
<text x="2496.00" y="902.70" font-size="31.40" font-weight="normal" fill="#eef2fa" textLength="99.63" lengthAdjust="spacingAndGlyphs" stroke="#eef2fa" stroke-width="0.7" paint-order="stroke" >Closed</text>
<text x="2498.50" y="968.30" font-size="26.89" font-weight="normal" fill="#eef2fa" textLength="69.55" lengthAdjust="spacingAndGlyphs" >MTTR</text>
<text x="2579.60" y="968.30" font-size="34.16" font-weight="normal" fill="#e2e2e2" textLength="17.84" lengthAdjust="spacingAndGlyphs" stroke="#e2e2e2" stroke-width="0.5" paint-order="stroke" >7</text>
<text x="2607.80" y="968.30" font-size="26.50" font-weight="normal" fill="#eef2fa" textLength="56.26" lengthAdjust="spacingAndGlyphs" >days</text>
<path d="M 2496.4 1034.3 C 2498.2 1033.7, 2503.3 1030.8, 2507.1 1030.5 C 2510.9 1030.2, 2515.9 1032.4, 2519.0 1032.2 C 2522.1 1032.0, 2524.3 1029.9, 2525.9 1029.6 C 2527.5 1029.3, 2527.0 1031.0, 2528.4 1030.5 C 2529.8 1030.0, 2532.7 1027.0, 2534.4 1026.6 C 2536.1 1026.2, 2535.9 1026.4, 2538.7 1028.3 C 2541.5 1030.2, 2546.1 1038.0, 2551.1 1037.7 C 2556.1 1037.4, 2564.8 1028.1, 2568.6 1026.6 C 2572.4 1025.1, 2570.7 1030.2, 2574.2 1028.7 C 2577.7 1027.2, 2583.9 1016.6, 2589.5 1017.6 C 2595.1 1018.6, 2602.3 1034.2, 2607.5 1034.7 C 2612.7 1035.2, 2617.5 1024.9, 2620.7 1020.6 C 2623.9 1016.3, 2624.3 1011.2, 2626.7 1008.7 C 2629.1 1006.2, 2630.9 1005.7, 2635.2 1005.7 C 2639.5 1005.7, 2648.5 1008.5, 2652.3 1008.7 C 2656.1 1008.9, 2655.9 1006.7, 2657.9 1007 C 2659.9 1007.3, 2660.2 1006.7, 2664.3 1010.4 C 2668.4 1014.1, 2677.1 1028.8, 2682.2 1029.2 C 2687.3 1029.6, 2692.2 1015.4, 2695.0 1012.9 C 2697.8 1010.4, 2697.9 1014.4, 2699.3 1014.2 C 2700.7 1014.0, 2702.9 1012.1, 2703.6 1011.7" fill="none" stroke="#f47575" stroke-width="3.9" stroke-linecap="butt" stroke-linejoin="round"/>
<path d="M2937.7 990 V973.5 M2930.5 980.5 L2937.7 973 L2945 980.5" stroke="#f26e6e" stroke-width="2.8" fill="none" stroke-linecap="round" stroke-linejoin="round"/>
<text x="2951.70" y="991.00" font-size="28.34" font-weight="normal" fill="#f26e6e" textLength="54.34" lengthAdjust="spacingAndGlyphs" stroke="#f26e6e" stroke-width="0.5" paint-order="stroke" >25%</text>
<text x="2742.00" y="1032.40" font-size="28.49" font-weight="normal" fill="#8496b0" textLength="264.96" lengthAdjust="spacingAndGlyphs" >More than last month</text>
<text x="624.70" y="1414.90" font-size="29.07" font-weight="normal" fill="#eef2fa" textLength="188.84" lengthAdjust="spacingAndGlyphs" >Total Coverage</text>
<path d="M 644.0 1521.2 A 77 77 0 0 1 711.8 1458.0" fill="none" stroke="#1f2939" stroke-width="9" stroke-linecap="round"/>
<path d="M 725.2 1457.8 A 77 77 0 1 1 642.8 1535.9" fill="none" stroke="#80f5ee" stroke-width="9.2" stroke-linecap="round"/>
<text x="685.70" y="1548.50" font-size="39.97" font-weight="normal" fill="#eef2fa" textLength="76.16" lengthAdjust="spacingAndGlyphs" stroke="#eef2fa" stroke-width="0.4" paint-order="stroke" >87%</text>
<rect x="895" y="1368" width="2" height="271.5" fill="#353f52"/>
<rect x="1941" y="1368" width="2" height="271.5" fill="#353f52"/>
<text x="928.00" y="1414.90" font-size="29.07" font-weight="normal" fill="#eef2fa" textLength="300.59" lengthAdjust="spacingAndGlyphs" >Top Applications at Risk</text>
<text x="1786.90" y="1415.00" font-size="29.07" font-weight="normal" fill="#2aabf2" textLength="97.84" lengthAdjust="spacingAndGlyphs" stroke="#2aabf2" stroke-width="0.6" paint-order="stroke" >View all</text>
<rect x="928" y="1448" width="321.7" height="191.4" rx="15" fill="#172131"/>
<text x="952.50" y="1502.40" font-size="27.18" font-weight="bold" fill="#eef2fa" textLength="55.94" lengthAdjust="spacingAndGlyphs" >CAS</text>
<text x="954.70" y="1570.30" font-size="39.68" font-weight="bold" fill="#eef2fa" textLength="48.20" lengthAdjust="spacingAndGlyphs" >84</text>
<text x="952.50" y="1605.00" font-size="27.18" font-weight="normal" fill="#8192ab" textLength="74.39" lengthAdjust="spacingAndGlyphs" >Cases</text>
<path d="M1058.4 1593.5 L1070.15 1584.5 L1081.9 1593.5 M1058.4 1603.5 L1070.15 1594.5 L1081.9 1603.5" stroke="#ff1440" stroke-width="5" fill="none" stroke-linecap="round" stroke-linejoin="round"/>
<text x="1098.70" y="1605.00" font-size="27.18" font-weight="normal" fill="#eef2fa" textLength="25.95" lengthAdjust="spacingAndGlyphs" >13</text>
<path d="M1158.5 1593.5 L1170.25 1584.5 L1182.0 1593.5 M1158.5 1603.5 L1170.25 1594.5 L1182.0 1603.5" stroke="#ff5470" stroke-width="5" fill="none" stroke-linecap="round" stroke-linejoin="round"/>
<text x="1199.40" y="1605.00" font-size="27.18" font-weight="normal" fill="#eef2fa" textLength="25.25" lengthAdjust="spacingAndGlyphs" >19</text>
<rect x="1266.2" y="1448" width="327.8" height="191.4" rx="15" fill="#172131"/>
<text x="1290.50" y="1502.40" font-size="27.18" font-weight="bold" fill="#eef2fa" textLength="64.35" lengthAdjust="spacingAndGlyphs" >CWP</text>
<text x="1292.00" y="1570.30" font-size="39.68" font-weight="bold" fill="#eef2fa" textLength="42.59" lengthAdjust="spacingAndGlyphs" >32</text>
<text x="1291.40" y="1605.00" font-size="27.18" font-weight="normal" fill="#8192ab" textLength="73.29" lengthAdjust="spacingAndGlyphs" >Cases</text>
<path d="M1396 1593.5 L1407.75 1584.5 L1419.5 1593.5 M1396 1603.5 L1407.75 1594.5 L1419.5 1603.5" stroke="#ff1440" stroke-width="5" fill="none" stroke-linecap="round" stroke-linejoin="round"/>
<text x="1436.80" y="1605.00" font-size="27.18" font-weight="normal" fill="#eef2fa" textLength="25.75" lengthAdjust="spacingAndGlyphs" >12</text>
<path d="M1495.7 1593.5 L1507.45 1584.5 L1519.2 1593.5 M1495.7 1603.5 L1507.45 1594.5 L1519.2 1603.5" stroke="#ff5470" stroke-width="5" fill="none" stroke-linecap="round" stroke-linejoin="round"/>
<text x="1536.60" y="1605.00" font-size="27.18" font-weight="normal" fill="#eef2fa" textLength="32.27" lengthAdjust="spacingAndGlyphs" >20</text>
<rect x="1610.2" y="1448" width="299.8" height="191.4" rx="15" fill="#172131"/>
<text x="1634.50" y="1502.40" font-size="27.18" font-weight="bold" fill="#eef2fa" textLength="86.76" lengthAdjust="spacingAndGlyphs" >XSIAM</text>
<text x="1635.90" y="1570.30" font-size="39.68" font-weight="bold" fill="#eef2fa" textLength="36.98" lengthAdjust="spacingAndGlyphs" >17</text>
<text x="1635.30" y="1605.00" font-size="27.18" font-weight="normal" fill="#8192ab" textLength="73.89" lengthAdjust="spacingAndGlyphs" >Cases</text>
<path d="M1740 1593.5 L1751.75 1584.5 L1763.5 1593.5 M1740 1603.5 L1751.75 1594.5 L1763.5 1603.5" stroke="#ff1440" stroke-width="5" fill="none" stroke-linecap="round" stroke-linejoin="round"/>
<text x="1781.30" y="1605.00" font-size="27.18" font-weight="normal" fill="#eef2fa" textLength="13.43" lengthAdjust="spacingAndGlyphs" >3</text>
<path d="M1828.5 1593.5 L1840.25 1584.5 L1852.0 1593.5 M1828.5 1603.5 L1840.25 1594.5 L1852.0 1603.5" stroke="#ff5470" stroke-width="5" fill="none" stroke-linecap="round" stroke-linejoin="round"/>
<text x="1869.40" y="1605.00" font-size="27.18" font-weight="normal" fill="#eef2fa" textLength="13.63" lengthAdjust="spacingAndGlyphs" >5</text>
<rect x="1974.3" y="1368" width="639.7" height="127.3" rx="15" fill="#172131"/>
<rect x="2006" y="1408" width="48" height="48" rx="11" fill="#2d394c"/>
<path fill="#eef3fc" d="M2030 1418.5 C2034 1421 2037.5 1422 2042 1422.5 C2042 1434 2038 1441 2030 1445 C2022 1441 2018 1434 2018 1422.5 C2022.5 1422 2026 1421 2030 1418.5 Z"/>
<text x="2078.60" y="1422.70" font-size="28.49" font-weight="normal" fill="#eef2fa" textLength="269.83" lengthAdjust="spacingAndGlyphs" >Suggested Guardrails</text>
<text x="2078.60" y="1460.30" font-size="24.71" font-weight="normal" fill="#8a9bb5" textLength="417.97" lengthAdjust="spacingAndGlyphs" stroke="#8a9bb5" stroke-width="0.4" paint-order="stroke" >Strengthen your guardrails in one click</text>
<path d="M2538 1431.7 H2561 M2552.5 1423.5 L2561 1431.7 L2552.5 1440" stroke="#eef2fa" stroke-width="2.6" fill="none" stroke-linecap="round" stroke-linejoin="round"/>
<rect x="1974.3" y="1512.2" width="639.7" height="127.3" rx="15" fill="#172131"/>
<rect x="2006" y="1552.2" width="48" height="48" rx="11" fill="#2d394c"/>
<g fill="#eef3fc"><rect x="2020.5" y="1566.7" width="8.5" height="8.5" rx="2"/><rect x="2031" y="1566.7" width="8.5" height="8.5" rx="2"/><rect x="2020.5" y="1577.2" width="8.5" height="8.5" rx="2"/><rect x="2031" y="1577.2" width="8.5" height="8.5" rx="2"/></g>
<text x="2078.60" y="1566.90" font-size="28.49" font-weight="normal" fill="#eef2fa" textLength="221.01" lengthAdjust="spacingAndGlyphs" >Agentic Assistant</text>
<text x="2078.60" y="1604.50" font-size="24.71" font-weight="normal" fill="#8a9bb5" textLength="406.00" lengthAdjust="spacingAndGlyphs" stroke="#8a9bb5" stroke-width="0.4" paint-order="stroke" >Answer any question about your data</text>
<path d="M2538 1575.9 H2561 M2552.5 1567.7 L2561 1575.9 L2552.5 1584.2" stroke="#eef2fa" stroke-width="2.6" fill="none" stroke-linecap="round" stroke-linejoin="round"/>
</svg>
</body></html>
